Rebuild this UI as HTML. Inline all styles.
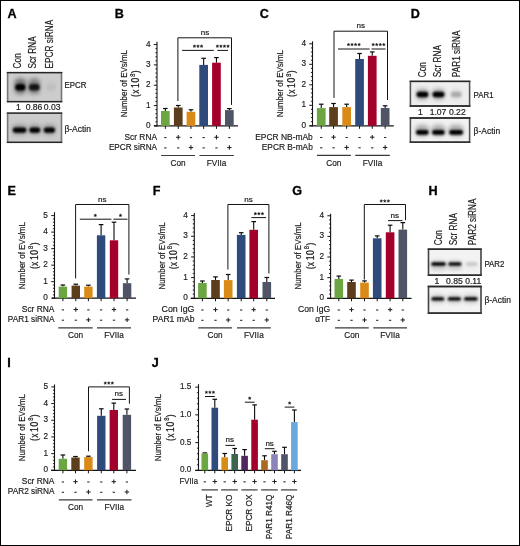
<!DOCTYPE html>
<html><head><meta charset="utf-8"><style>
html,body{margin:0;padding:0;background:#fff;}
body{width:520px;height:546px;overflow:hidden;font-family:"Liberation Sans",sans-serif;}
svg{display:block;}
</style></head><body>
<svg xmlns="http://www.w3.org/2000/svg" style="will-change:transform" width="520" height="546" viewBox="0 0 520 546" font-family='"Liberation Sans", sans-serif'>
<defs><filter id="bl1" x="-30%" y="-80%" width="160%" height="260%"><feGaussianBlur stdDeviation="0.9"/></filter><filter id="bl2" x="-50%" y="-100%" width="200%" height="300%"><feGaussianBlur stdDeviation="2"/></filter></defs>
<rect x="0" y="0" width="520" height="546" fill="#fff"/>
<text transform="translate(7.6 17.9)" font-size="12.6" text-anchor="start" font-weight="bold" fill="#000" stroke="#000" stroke-width="0.3">A</text>
<text transform="translate(114.8 18)" font-size="12.6" text-anchor="start" font-weight="bold" fill="#000" stroke="#000" stroke-width="0.3">B</text>
<text transform="translate(259.8 17.9)" font-size="12.6" text-anchor="start" font-weight="bold" fill="#000" stroke="#000" stroke-width="0.3">C</text>
<text transform="translate(410.8 17.9)" font-size="12.6" text-anchor="start" font-weight="bold" fill="#000" stroke="#000" stroke-width="0.3">D</text>
<text transform="translate(7.6 195.2)" font-size="12.6" text-anchor="start" font-weight="bold" fill="#000" stroke="#000" stroke-width="0.3">E</text>
<text transform="translate(152.8 195)" font-size="12.6" text-anchor="start" font-weight="bold" fill="#000" stroke="#000" stroke-width="0.3">F</text>
<text transform="translate(292.3 195.4)" font-size="12.6" text-anchor="start" font-weight="bold" fill="#000" stroke="#000" stroke-width="0.3">G</text>
<text transform="translate(428.6 195.1)" font-size="12.6" text-anchor="start" font-weight="bold" fill="#000" stroke="#000" stroke-width="0.3">H</text>
<text transform="translate(7.2 367.1)" font-size="12.6" text-anchor="start" font-weight="bold" fill="#000" stroke="#000" stroke-width="0.3">I</text>
<text transform="translate(151.8 367.1)" font-size="12.6" text-anchor="start" font-weight="bold" fill="#000" stroke="#000" stroke-width="0.3">J</text>
<line x1="157" y1="41.7" x2="157" y2="126.4" stroke="#141414" stroke-width="1.1"/>
<line x1="154" y1="125.9" x2="238" y2="125.9" stroke="#141414" stroke-width="1.2"/>
<line x1="153.8" y1="125.9" x2="157" y2="125.9" stroke="#141414" stroke-width="1"/>
<text transform="translate(150.6 127.93) scale(0.84 1)" font-size="9.8" text-anchor="end" font-weight="normal" fill="#1c1c1c" stroke="#1c1c1c" stroke-width="0.2">0</text>
<line x1="155.4" y1="121.83" x2="157" y2="121.83" stroke="#141414" stroke-width="0.9"/>
<line x1="155.4" y1="117.77" x2="157" y2="117.77" stroke="#141414" stroke-width="0.9"/>
<line x1="155.4" y1="113.7" x2="157" y2="113.7" stroke="#141414" stroke-width="0.9"/>
<line x1="155.4" y1="109.64" x2="157" y2="109.64" stroke="#141414" stroke-width="0.9"/>
<line x1="153.8" y1="105.57" x2="157" y2="105.57" stroke="#141414" stroke-width="1"/>
<text transform="translate(150.6 107.6) scale(0.84 1)" font-size="9.8" text-anchor="end" font-weight="normal" fill="#1c1c1c" stroke="#1c1c1c" stroke-width="0.2">1</text>
<line x1="155.4" y1="101.5" x2="157" y2="101.5" stroke="#141414" stroke-width="0.9"/>
<line x1="155.4" y1="97.44" x2="157" y2="97.44" stroke="#141414" stroke-width="0.9"/>
<line x1="155.4" y1="93.37" x2="157" y2="93.37" stroke="#141414" stroke-width="0.9"/>
<line x1="155.4" y1="89.31" x2="157" y2="89.31" stroke="#141414" stroke-width="0.9"/>
<line x1="153.8" y1="85.24" x2="157" y2="85.24" stroke="#141414" stroke-width="1"/>
<text transform="translate(150.6 87.27) scale(0.84 1)" font-size="9.8" text-anchor="end" font-weight="normal" fill="#1c1c1c" stroke="#1c1c1c" stroke-width="0.2">2</text>
<line x1="155.4" y1="81.17" x2="157" y2="81.17" stroke="#141414" stroke-width="0.9"/>
<line x1="155.4" y1="77.11" x2="157" y2="77.11" stroke="#141414" stroke-width="0.9"/>
<line x1="155.4" y1="73.04" x2="157" y2="73.04" stroke="#141414" stroke-width="0.9"/>
<line x1="155.4" y1="68.98" x2="157" y2="68.98" stroke="#141414" stroke-width="0.9"/>
<line x1="153.8" y1="64.91" x2="157" y2="64.91" stroke="#141414" stroke-width="1"/>
<text transform="translate(150.6 66.94) scale(0.84 1)" font-size="9.8" text-anchor="end" font-weight="normal" fill="#1c1c1c" stroke="#1c1c1c" stroke-width="0.2">3</text>
<line x1="155.4" y1="60.84" x2="157" y2="60.84" stroke="#141414" stroke-width="0.9"/>
<line x1="155.4" y1="56.78" x2="157" y2="56.78" stroke="#141414" stroke-width="0.9"/>
<line x1="155.4" y1="52.71" x2="157" y2="52.71" stroke="#141414" stroke-width="0.9"/>
<line x1="155.4" y1="48.65" x2="157" y2="48.65" stroke="#141414" stroke-width="0.9"/>
<line x1="153.8" y1="44.58" x2="157" y2="44.58" stroke="#141414" stroke-width="1"/>
<text transform="translate(150.6 46.61) scale(0.84 1)" font-size="9.8" text-anchor="end" font-weight="normal" fill="#1c1c1c" stroke="#1c1c1c" stroke-width="0.2">4</text>
<line x1="165.35" y1="111" x2="165.35" y2="108.5" stroke="#0a0a0a" stroke-width="1.1"/>
<line x1="163.05" y1="108.5" x2="167.65" y2="108.5" stroke="#0a0a0a" stroke-width="1.2"/>
<rect x="161" y="111" width="8.7" height="14.9" fill="#6ba642"/>
<line x1="165.35" y1="125.9" x2="165.35" y2="128.9" stroke="#141414" stroke-width="1"/>
<line x1="178.25" y1="107.5" x2="178.25" y2="105.5" stroke="#0a0a0a" stroke-width="1.1"/>
<line x1="175.95" y1="105.5" x2="180.55" y2="105.5" stroke="#0a0a0a" stroke-width="1.2"/>
<rect x="173.9" y="107.5" width="8.7" height="18.4" fill="#5c3d1c"/>
<line x1="178.25" y1="125.9" x2="178.25" y2="128.9" stroke="#141414" stroke-width="1"/>
<line x1="190.95" y1="111.8" x2="190.95" y2="109.8" stroke="#0a0a0a" stroke-width="1.1"/>
<line x1="188.65" y1="109.8" x2="193.25" y2="109.8" stroke="#0a0a0a" stroke-width="1.2"/>
<rect x="186.6" y="111.8" width="8.7" height="14.1" fill="#da8a16"/>
<line x1="190.95" y1="125.9" x2="190.95" y2="128.9" stroke="#141414" stroke-width="1"/>
<line x1="203.65" y1="64.9" x2="203.65" y2="58.3" stroke="#0a0a0a" stroke-width="1.1"/>
<line x1="201.35" y1="58.3" x2="205.95" y2="58.3" stroke="#0a0a0a" stroke-width="1.2"/>
<rect x="199.3" y="64.9" width="8.7" height="61" fill="#2e4b7c"/>
<line x1="203.65" y1="125.9" x2="203.65" y2="128.9" stroke="#141414" stroke-width="1"/>
<line x1="216.45" y1="62.7" x2="216.45" y2="57.6" stroke="#0a0a0a" stroke-width="1.1"/>
<line x1="214.15" y1="57.6" x2="218.75" y2="57.6" stroke="#0a0a0a" stroke-width="1.2"/>
<rect x="212.1" y="62.7" width="8.7" height="63.2" fill="#a3002b"/>
<line x1="216.45" y1="125.9" x2="216.45" y2="128.9" stroke="#141414" stroke-width="1"/>
<line x1="229.35" y1="110.1" x2="229.35" y2="108.6" stroke="#0a0a0a" stroke-width="1.1"/>
<line x1="227.05" y1="108.6" x2="231.65" y2="108.6" stroke="#0a0a0a" stroke-width="1.2"/>
<rect x="225" y="110.1" width="8.7" height="15.8" fill="#4f5566"/>
<line x1="229.35" y1="125.9" x2="229.35" y2="128.9" stroke="#141414" stroke-width="1"/>
<polyline points="177.9,101 177.9,37.8 231.5,37.8 231.5,104.9" fill="none" stroke="#141414" stroke-width="1"/>
<text transform="translate(204.9 34.58)" font-size="8" text-anchor="middle" font-weight="normal" fill="#1c1c1c" stroke="#1c1c1c" stroke-width="0.2">ns</text>
<polyline points="182.1,50.4 213.8,50.4" fill="none" stroke="#141414" stroke-width="1"/>
<polygon points="194.45,44.65 194.89,45.59 195.92,45.72 195.16,46.43 195.36,47.45 194.45,46.95 193.54,47.45 193.74,46.43 192.98,45.72 194.01,45.59" fill="#1a1a1a" stroke="#1a1a1a" stroke-width="0.35" stroke-linejoin="round"/>
<polygon points="198,44.65 198.44,45.59 199.47,45.72 198.71,46.43 198.91,47.45 198,46.95 197.09,47.45 197.29,46.43 196.53,45.72 197.56,45.59" fill="#1a1a1a" stroke="#1a1a1a" stroke-width="0.35" stroke-linejoin="round"/>
<polygon points="201.55,44.65 201.99,45.59 203.02,45.72 202.26,46.43 202.46,47.45 201.55,46.95 200.64,47.45 200.84,46.43 200.08,45.72 201.11,45.59" fill="#1a1a1a" stroke="#1a1a1a" stroke-width="0.35" stroke-linejoin="round"/>
<polyline points="217.3,50.4 228,50.4" fill="none" stroke="#141414" stroke-width="1"/>
<polygon points="217.38,44.65 217.82,45.59 218.85,45.72 218.09,46.43 218.29,47.45 217.38,46.95 216.46,47.45 216.66,46.43 215.9,45.72 216.93,45.59" fill="#1a1a1a" stroke="#1a1a1a" stroke-width="0.35" stroke-linejoin="round"/>
<polygon points="220.92,44.65 221.37,45.59 222.4,45.72 221.64,46.43 221.84,47.45 220.92,46.95 220.01,47.45 220.21,46.43 219.45,45.72 220.48,45.59" fill="#1a1a1a" stroke="#1a1a1a" stroke-width="0.35" stroke-linejoin="round"/>
<polygon points="224.47,44.65 224.92,45.59 225.95,45.72 225.19,46.43 225.39,47.45 224.47,46.95 223.56,47.45 223.76,46.43 223,45.72 224.03,45.59" fill="#1a1a1a" stroke="#1a1a1a" stroke-width="0.35" stroke-linejoin="round"/>
<polygon points="228.02,44.65 228.47,45.59 229.5,45.72 228.74,46.43 228.94,47.45 228.02,46.95 227.11,47.45 227.31,46.43 226.55,45.72 227.58,45.59" fill="#1a1a1a" stroke="#1a1a1a" stroke-width="0.35" stroke-linejoin="round"/>
<text transform="translate(157 139.63) scale(0.84 1)" font-size="9.8" text-anchor="end" font-weight="normal" fill="#1c1c1c" stroke="#1c1c1c" stroke-width="0.2" textLength="38.7" lengthAdjust="spacingAndGlyphs">Scr RNA</text>
<line x1="164.2" y1="137.6" x2="166.5" y2="137.6" stroke="#222" stroke-width="1.05"/>
<line x1="176.05" y1="137.25" x2="180.45" y2="137.25" stroke="#222" stroke-width="1.05"/>
<line x1="178.25" y1="135.05" x2="178.25" y2="139.45" stroke="#222" stroke-width="1.05"/>
<line x1="189.8" y1="137.6" x2="192.1" y2="137.6" stroke="#222" stroke-width="1.05"/>
<line x1="202.5" y1="137.6" x2="204.8" y2="137.6" stroke="#222" stroke-width="1.05"/>
<line x1="214.25" y1="137.25" x2="218.65" y2="137.25" stroke="#222" stroke-width="1.05"/>
<line x1="216.45" y1="135.05" x2="216.45" y2="139.45" stroke="#222" stroke-width="1.05"/>
<line x1="228.2" y1="137.6" x2="230.5" y2="137.6" stroke="#222" stroke-width="1.05"/>
<text transform="translate(157 149.93) scale(0.84 1)" font-size="9.8" text-anchor="end" font-weight="normal" fill="#1c1c1c" stroke="#1c1c1c" stroke-width="0.2" textLength="57.28" lengthAdjust="spacingAndGlyphs">EPCR siRNA</text>
<line x1="164.2" y1="147.9" x2="166.5" y2="147.9" stroke="#222" stroke-width="1.05"/>
<line x1="177.1" y1="147.9" x2="179.4" y2="147.9" stroke="#222" stroke-width="1.05"/>
<line x1="188.75" y1="147.55" x2="193.15" y2="147.55" stroke="#222" stroke-width="1.05"/>
<line x1="190.95" y1="145.35" x2="190.95" y2="149.75" stroke="#222" stroke-width="1.05"/>
<line x1="202.5" y1="147.9" x2="204.8" y2="147.9" stroke="#222" stroke-width="1.05"/>
<line x1="215.3" y1="147.9" x2="217.6" y2="147.9" stroke="#222" stroke-width="1.05"/>
<line x1="227.15" y1="147.55" x2="231.55" y2="147.55" stroke="#222" stroke-width="1.05"/>
<line x1="229.35" y1="145.35" x2="229.35" y2="149.75" stroke="#222" stroke-width="1.05"/>
<line x1="161.2" y1="155.5" x2="195" y2="155.5" stroke="#3a3a3a" stroke-width="1.2"/>
<text transform="translate(178.1 165.63) scale(0.84 1)" font-size="9.8" text-anchor="middle" font-weight="normal" fill="#1c1c1c" stroke="#1c1c1c" stroke-width="0.2">Con</text>
<line x1="199.4" y1="155.5" x2="233.8" y2="155.5" stroke="#3a3a3a" stroke-width="1.2"/>
<text transform="translate(216.6 165.63) scale(0.84 1)" font-size="9.8" text-anchor="middle" font-weight="normal" fill="#1c1c1c" stroke="#1c1c1c" stroke-width="0.2">FVIIa</text>
<text transform="translate(127.4 83.6) rotate(-90) scale(0.84 1)" font-size="9.8" text-anchor="middle" font-weight="normal" fill="#1c1c1c" stroke="#1c1c1c" stroke-width="0.2" textLength="80" lengthAdjust="spacingAndGlyphs">Number of EVs/mL</text>
<text transform="translate(139.3 83.6) rotate(-90) scale(0.86 1)" font-size="10" text-anchor="middle" font-weight="normal" fill="#1c1c1c" stroke="#1c1c1c" stroke-width="0.2"><tspan x="-13.84">(</tspan><tspan x="-9.42">x</tspan><tspan x="-2.33">1</tspan><tspan x="3.95">0</tspan><tspan x="9.77" dy="-4.6" font-size="6.8">8</tspan><tspan x="13.72" dy="4.6">)</tspan></text>
<line x1="312.5" y1="41.3" x2="312.5" y2="126.3" stroke="#141414" stroke-width="1.1"/>
<line x1="309.5" y1="125.8" x2="393.8" y2="125.8" stroke="#141414" stroke-width="1.2"/>
<line x1="309.3" y1="125.8" x2="312.5" y2="125.8" stroke="#141414" stroke-width="1"/>
<text transform="translate(306.2 127.83) scale(0.84 1)" font-size="9.8" text-anchor="end" font-weight="normal" fill="#1c1c1c" stroke="#1c1c1c" stroke-width="0.2">0</text>
<line x1="310.9" y1="121.7" x2="312.5" y2="121.7" stroke="#141414" stroke-width="0.9"/>
<line x1="310.9" y1="117.6" x2="312.5" y2="117.6" stroke="#141414" stroke-width="0.9"/>
<line x1="310.9" y1="113.5" x2="312.5" y2="113.5" stroke="#141414" stroke-width="0.9"/>
<line x1="310.9" y1="109.4" x2="312.5" y2="109.4" stroke="#141414" stroke-width="0.9"/>
<line x1="309.3" y1="105.3" x2="312.5" y2="105.3" stroke="#141414" stroke-width="1"/>
<text transform="translate(306.2 107.33) scale(0.84 1)" font-size="9.8" text-anchor="end" font-weight="normal" fill="#1c1c1c" stroke="#1c1c1c" stroke-width="0.2">1</text>
<line x1="310.9" y1="101.2" x2="312.5" y2="101.2" stroke="#141414" stroke-width="0.9"/>
<line x1="310.9" y1="97.1" x2="312.5" y2="97.1" stroke="#141414" stroke-width="0.9"/>
<line x1="310.9" y1="93" x2="312.5" y2="93" stroke="#141414" stroke-width="0.9"/>
<line x1="310.9" y1="88.9" x2="312.5" y2="88.9" stroke="#141414" stroke-width="0.9"/>
<line x1="309.3" y1="84.8" x2="312.5" y2="84.8" stroke="#141414" stroke-width="1"/>
<text transform="translate(306.2 86.83) scale(0.84 1)" font-size="9.8" text-anchor="end" font-weight="normal" fill="#1c1c1c" stroke="#1c1c1c" stroke-width="0.2">2</text>
<line x1="310.9" y1="80.7" x2="312.5" y2="80.7" stroke="#141414" stroke-width="0.9"/>
<line x1="310.9" y1="76.6" x2="312.5" y2="76.6" stroke="#141414" stroke-width="0.9"/>
<line x1="310.9" y1="72.5" x2="312.5" y2="72.5" stroke="#141414" stroke-width="0.9"/>
<line x1="310.9" y1="68.4" x2="312.5" y2="68.4" stroke="#141414" stroke-width="0.9"/>
<line x1="309.3" y1="64.3" x2="312.5" y2="64.3" stroke="#141414" stroke-width="1"/>
<text transform="translate(306.2 66.33) scale(0.84 1)" font-size="9.8" text-anchor="end" font-weight="normal" fill="#1c1c1c" stroke="#1c1c1c" stroke-width="0.2">3</text>
<line x1="310.9" y1="60.2" x2="312.5" y2="60.2" stroke="#141414" stroke-width="0.9"/>
<line x1="310.9" y1="56.1" x2="312.5" y2="56.1" stroke="#141414" stroke-width="0.9"/>
<line x1="310.9" y1="52" x2="312.5" y2="52" stroke="#141414" stroke-width="0.9"/>
<line x1="310.9" y1="47.9" x2="312.5" y2="47.9" stroke="#141414" stroke-width="0.9"/>
<line x1="309.3" y1="43.8" x2="312.5" y2="43.8" stroke="#141414" stroke-width="1"/>
<text transform="translate(306.2 45.83) scale(0.84 1)" font-size="9.8" text-anchor="end" font-weight="normal" fill="#1c1c1c" stroke="#1c1c1c" stroke-width="0.2">4</text>
<line x1="321.25" y1="108.1" x2="321.25" y2="104.2" stroke="#0a0a0a" stroke-width="1.1"/>
<line x1="318.95" y1="104.2" x2="323.55" y2="104.2" stroke="#0a0a0a" stroke-width="1.2"/>
<rect x="316.9" y="108.1" width="8.7" height="17.7" fill="#6ba642"/>
<line x1="321.25" y1="125.8" x2="321.25" y2="128.8" stroke="#141414" stroke-width="1"/>
<line x1="333.55" y1="107.1" x2="333.55" y2="103.5" stroke="#0a0a0a" stroke-width="1.1"/>
<line x1="331.25" y1="103.5" x2="335.85" y2="103.5" stroke="#0a0a0a" stroke-width="1.2"/>
<rect x="329.2" y="107.1" width="8.7" height="18.7" fill="#5c3d1c"/>
<line x1="333.55" y1="125.8" x2="333.55" y2="128.8" stroke="#141414" stroke-width="1"/>
<line x1="346.65" y1="107.1" x2="346.65" y2="104.2" stroke="#0a0a0a" stroke-width="1.1"/>
<line x1="344.35" y1="104.2" x2="348.95" y2="104.2" stroke="#0a0a0a" stroke-width="1.2"/>
<rect x="342.3" y="107.1" width="8.7" height="18.7" fill="#da8a16"/>
<line x1="346.65" y1="125.8" x2="346.65" y2="128.8" stroke="#141414" stroke-width="1"/>
<line x1="359.55" y1="59" x2="359.55" y2="53.5" stroke="#0a0a0a" stroke-width="1.1"/>
<line x1="357.25" y1="53.5" x2="361.85" y2="53.5" stroke="#0a0a0a" stroke-width="1.2"/>
<rect x="355.2" y="59" width="8.7" height="66.8" fill="#2e4b7c"/>
<line x1="359.55" y1="125.8" x2="359.55" y2="128.8" stroke="#141414" stroke-width="1"/>
<line x1="372.25" y1="55.8" x2="372.25" y2="51.9" stroke="#0a0a0a" stroke-width="1.1"/>
<line x1="369.95" y1="51.9" x2="374.55" y2="51.9" stroke="#0a0a0a" stroke-width="1.2"/>
<rect x="367.9" y="55.8" width="8.7" height="70" fill="#a3002b"/>
<line x1="372.25" y1="125.8" x2="372.25" y2="128.8" stroke="#141414" stroke-width="1"/>
<line x1="385.15" y1="108" x2="385.15" y2="105.8" stroke="#0a0a0a" stroke-width="1.1"/>
<line x1="382.85" y1="105.8" x2="387.45" y2="105.8" stroke="#0a0a0a" stroke-width="1.2"/>
<rect x="380.8" y="108" width="8.7" height="17.8" fill="#4f5566"/>
<line x1="385.15" y1="125.8" x2="385.15" y2="128.8" stroke="#141414" stroke-width="1"/>
<polyline points="334,98 334,31.2 387.5,31.2 387.5,100" fill="none" stroke="#141414" stroke-width="1"/>
<text transform="translate(360.7 28.28)" font-size="8" text-anchor="middle" font-weight="normal" fill="#1c1c1c" stroke="#1c1c1c" stroke-width="0.2">ns</text>
<polyline points="338,49 369.6,49" fill="none" stroke="#141414" stroke-width="1"/>
<polygon points="348.48,43.05 348.92,43.99 349.95,44.12 349.19,44.83 349.39,45.85 348.48,45.35 347.56,45.85 347.76,44.83 347,44.12 348.03,43.99" fill="#1a1a1a" stroke="#1a1a1a" stroke-width="0.35" stroke-linejoin="round"/>
<polygon points="352.03,43.05 352.47,43.99 353.5,44.12 352.74,44.83 352.94,45.85 352.03,45.35 351.11,45.85 351.31,44.83 350.55,44.12 351.58,43.99" fill="#1a1a1a" stroke="#1a1a1a" stroke-width="0.35" stroke-linejoin="round"/>
<polygon points="355.57,43.05 356.02,43.99 357.05,44.12 356.29,44.83 356.49,45.85 355.57,45.35 354.66,45.85 354.86,44.83 354.1,44.12 355.13,43.99" fill="#1a1a1a" stroke="#1a1a1a" stroke-width="0.35" stroke-linejoin="round"/>
<polygon points="359.12,43.05 359.57,43.99 360.6,44.12 359.84,44.83 360.04,45.85 359.12,45.35 358.21,45.85 358.41,44.83 357.65,44.12 358.68,43.99" fill="#1a1a1a" stroke="#1a1a1a" stroke-width="0.35" stroke-linejoin="round"/>
<polyline points="371.5,49 385.6,49" fill="none" stroke="#141414" stroke-width="1"/>
<polygon points="373.18,43.05 373.62,43.99 374.65,44.12 373.89,44.83 374.09,45.85 373.18,45.35 372.26,45.85 372.46,44.83 371.7,44.12 372.73,43.99" fill="#1a1a1a" stroke="#1a1a1a" stroke-width="0.35" stroke-linejoin="round"/>
<polygon points="376.73,43.05 377.17,43.99 378.2,44.12 377.44,44.83 377.64,45.85 376.73,45.35 375.81,45.85 376.01,44.83 375.25,44.12 376.28,43.99" fill="#1a1a1a" stroke="#1a1a1a" stroke-width="0.35" stroke-linejoin="round"/>
<polygon points="380.27,43.05 380.72,43.99 381.75,44.12 380.99,44.83 381.19,45.85 380.27,45.35 379.36,45.85 379.56,44.83 378.8,44.12 379.83,43.99" fill="#1a1a1a" stroke="#1a1a1a" stroke-width="0.35" stroke-linejoin="round"/>
<polygon points="383.82,43.05 384.27,43.99 385.3,44.12 384.54,44.83 384.74,45.85 383.82,45.35 382.91,45.85 383.11,44.83 382.35,44.12 383.38,43.99" fill="#1a1a1a" stroke="#1a1a1a" stroke-width="0.35" stroke-linejoin="round"/>
<text transform="translate(312.8 139.53) scale(0.84 1)" font-size="9.8" text-anchor="end" font-weight="normal" fill="#1c1c1c" stroke="#1c1c1c" stroke-width="0.2" textLength="68.64" lengthAdjust="spacingAndGlyphs">EPCR NB-mAb</text>
<line x1="320.1" y1="137.5" x2="322.4" y2="137.5" stroke="#222" stroke-width="1.05"/>
<line x1="331.35" y1="137.15" x2="335.75" y2="137.15" stroke="#222" stroke-width="1.05"/>
<line x1="333.55" y1="134.95" x2="333.55" y2="139.35" stroke="#222" stroke-width="1.05"/>
<line x1="345.5" y1="137.5" x2="347.8" y2="137.5" stroke="#222" stroke-width="1.05"/>
<line x1="358.4" y1="137.5" x2="360.7" y2="137.5" stroke="#222" stroke-width="1.05"/>
<line x1="370.05" y1="137.15" x2="374.45" y2="137.15" stroke="#222" stroke-width="1.05"/>
<line x1="372.25" y1="134.95" x2="372.25" y2="139.35" stroke="#222" stroke-width="1.05"/>
<line x1="384" y1="137.5" x2="386.3" y2="137.5" stroke="#222" stroke-width="1.05"/>
<text transform="translate(312.8 149.83) scale(0.84 1)" font-size="9.8" text-anchor="end" font-weight="normal" fill="#1c1c1c" stroke="#1c1c1c" stroke-width="0.2" textLength="60.71" lengthAdjust="spacingAndGlyphs">EPCR B-mAb</text>
<line x1="320.1" y1="147.8" x2="322.4" y2="147.8" stroke="#222" stroke-width="1.05"/>
<line x1="332.4" y1="147.8" x2="334.7" y2="147.8" stroke="#222" stroke-width="1.05"/>
<line x1="344.45" y1="147.45" x2="348.85" y2="147.45" stroke="#222" stroke-width="1.05"/>
<line x1="346.65" y1="145.25" x2="346.65" y2="149.65" stroke="#222" stroke-width="1.05"/>
<line x1="358.4" y1="147.8" x2="360.7" y2="147.8" stroke="#222" stroke-width="1.05"/>
<line x1="371.1" y1="147.8" x2="373.4" y2="147.8" stroke="#222" stroke-width="1.05"/>
<line x1="382.95" y1="147.45" x2="387.35" y2="147.45" stroke="#222" stroke-width="1.05"/>
<line x1="385.15" y1="145.25" x2="385.15" y2="149.65" stroke="#222" stroke-width="1.05"/>
<line x1="316.9" y1="155.4" x2="350.9" y2="155.4" stroke="#3a3a3a" stroke-width="1.2"/>
<text transform="translate(333.9 165.53) scale(0.84 1)" font-size="9.8" text-anchor="middle" font-weight="normal" fill="#1c1c1c" stroke="#1c1c1c" stroke-width="0.2">Con</text>
<line x1="355.2" y1="155.4" x2="389.8" y2="155.4" stroke="#3a3a3a" stroke-width="1.2"/>
<text transform="translate(372.5 165.53) scale(0.84 1)" font-size="9.8" text-anchor="middle" font-weight="normal" fill="#1c1c1c" stroke="#1c1c1c" stroke-width="0.2">FVIIa</text>
<text transform="translate(282.6 83.6) rotate(-90) scale(0.84 1)" font-size="9.8" text-anchor="middle" font-weight="normal" fill="#1c1c1c" stroke="#1c1c1c" stroke-width="0.2" textLength="80" lengthAdjust="spacingAndGlyphs">Number of EVs/mL</text>
<text transform="translate(295.1 83.6) rotate(-90) scale(0.86 1)" font-size="10" text-anchor="middle" font-weight="normal" fill="#1c1c1c" stroke="#1c1c1c" stroke-width="0.2"><tspan x="-13.84">(</tspan><tspan x="-9.42">x</tspan><tspan x="-2.33">1</tspan><tspan x="3.95">0</tspan><tspan x="9.77" dy="-4.6" font-size="6.8">8</tspan><tspan x="13.72" dy="4.6">)</tspan></text>
<line x1="54.5" y1="212.2" x2="54.5" y2="298.7" stroke="#141414" stroke-width="1.1"/>
<line x1="52" y1="298.2" x2="136" y2="298.2" stroke="#141414" stroke-width="1.2"/>
<line x1="51.3" y1="298.2" x2="54.5" y2="298.2" stroke="#141414" stroke-width="1"/>
<text transform="translate(47.8 300.23) scale(0.84 1)" font-size="9.8" text-anchor="end" font-weight="normal" fill="#1c1c1c" stroke="#1c1c1c" stroke-width="0.2">0</text>
<line x1="52.9" y1="294.9" x2="54.5" y2="294.9" stroke="#141414" stroke-width="0.9"/>
<line x1="52.9" y1="291.59" x2="54.5" y2="291.59" stroke="#141414" stroke-width="0.9"/>
<line x1="52.9" y1="288.29" x2="54.5" y2="288.29" stroke="#141414" stroke-width="0.9"/>
<line x1="52.9" y1="284.98" x2="54.5" y2="284.98" stroke="#141414" stroke-width="0.9"/>
<line x1="51.3" y1="281.68" x2="54.5" y2="281.68" stroke="#141414" stroke-width="1"/>
<text transform="translate(47.8 283.71) scale(0.84 1)" font-size="9.8" text-anchor="end" font-weight="normal" fill="#1c1c1c" stroke="#1c1c1c" stroke-width="0.2">1</text>
<line x1="52.9" y1="278.38" x2="54.5" y2="278.38" stroke="#141414" stroke-width="0.9"/>
<line x1="52.9" y1="275.07" x2="54.5" y2="275.07" stroke="#141414" stroke-width="0.9"/>
<line x1="52.9" y1="271.77" x2="54.5" y2="271.77" stroke="#141414" stroke-width="0.9"/>
<line x1="52.9" y1="268.46" x2="54.5" y2="268.46" stroke="#141414" stroke-width="0.9"/>
<line x1="51.3" y1="265.16" x2="54.5" y2="265.16" stroke="#141414" stroke-width="1"/>
<text transform="translate(47.8 267.19) scale(0.84 1)" font-size="9.8" text-anchor="end" font-weight="normal" fill="#1c1c1c" stroke="#1c1c1c" stroke-width="0.2">2</text>
<line x1="52.9" y1="261.86" x2="54.5" y2="261.86" stroke="#141414" stroke-width="0.9"/>
<line x1="52.9" y1="258.55" x2="54.5" y2="258.55" stroke="#141414" stroke-width="0.9"/>
<line x1="52.9" y1="255.25" x2="54.5" y2="255.25" stroke="#141414" stroke-width="0.9"/>
<line x1="52.9" y1="251.94" x2="54.5" y2="251.94" stroke="#141414" stroke-width="0.9"/>
<line x1="51.3" y1="248.64" x2="54.5" y2="248.64" stroke="#141414" stroke-width="1"/>
<text transform="translate(47.8 250.67) scale(0.84 1)" font-size="9.8" text-anchor="end" font-weight="normal" fill="#1c1c1c" stroke="#1c1c1c" stroke-width="0.2">3</text>
<line x1="52.9" y1="245.34" x2="54.5" y2="245.34" stroke="#141414" stroke-width="0.9"/>
<line x1="52.9" y1="242.03" x2="54.5" y2="242.03" stroke="#141414" stroke-width="0.9"/>
<line x1="52.9" y1="238.73" x2="54.5" y2="238.73" stroke="#141414" stroke-width="0.9"/>
<line x1="52.9" y1="235.42" x2="54.5" y2="235.42" stroke="#141414" stroke-width="0.9"/>
<line x1="51.3" y1="232.12" x2="54.5" y2="232.12" stroke="#141414" stroke-width="1"/>
<text transform="translate(47.8 234.15) scale(0.84 1)" font-size="9.8" text-anchor="end" font-weight="normal" fill="#1c1c1c" stroke="#1c1c1c" stroke-width="0.2">4</text>
<line x1="52.9" y1="228.82" x2="54.5" y2="228.82" stroke="#141414" stroke-width="0.9"/>
<line x1="52.9" y1="225.51" x2="54.5" y2="225.51" stroke="#141414" stroke-width="0.9"/>
<line x1="52.9" y1="222.21" x2="54.5" y2="222.21" stroke="#141414" stroke-width="0.9"/>
<line x1="52.9" y1="218.9" x2="54.5" y2="218.9" stroke="#141414" stroke-width="0.9"/>
<line x1="51.3" y1="215.6" x2="54.5" y2="215.6" stroke="#141414" stroke-width="1"/>
<text transform="translate(47.8 217.63) scale(0.84 1)" font-size="9.8" text-anchor="end" font-weight="normal" fill="#1c1c1c" stroke="#1c1c1c" stroke-width="0.2">5</text>
<line x1="62.9" y1="286.6" x2="62.9" y2="285" stroke="#0a0a0a" stroke-width="1.1"/>
<line x1="60.6" y1="285" x2="65.2" y2="285" stroke="#0a0a0a" stroke-width="1.2"/>
<rect x="58.7" y="286.6" width="8.4" height="11.6" fill="#6ba642"/>
<line x1="62.9" y1="298.2" x2="62.9" y2="301.2" stroke="#141414" stroke-width="1"/>
<line x1="75.8" y1="285.6" x2="75.8" y2="284.2" stroke="#0a0a0a" stroke-width="1.1"/>
<line x1="73.5" y1="284.2" x2="78.1" y2="284.2" stroke="#0a0a0a" stroke-width="1.2"/>
<rect x="71.6" y="285.6" width="8.4" height="12.6" fill="#5c3d1c"/>
<line x1="75.8" y1="298.2" x2="75.8" y2="301.2" stroke="#141414" stroke-width="1"/>
<line x1="88.4" y1="286.6" x2="88.4" y2="285.2" stroke="#0a0a0a" stroke-width="1.1"/>
<line x1="86.1" y1="285.2" x2="90.7" y2="285.2" stroke="#0a0a0a" stroke-width="1.2"/>
<rect x="84.2" y="286.6" width="8.4" height="11.6" fill="#da8a16"/>
<line x1="88.4" y1="298.2" x2="88.4" y2="301.2" stroke="#141414" stroke-width="1"/>
<line x1="101.1" y1="235.3" x2="101.1" y2="224.6" stroke="#0a0a0a" stroke-width="1.1"/>
<line x1="98.8" y1="224.6" x2="103.4" y2="224.6" stroke="#0a0a0a" stroke-width="1.2"/>
<rect x="96.9" y="235.3" width="8.4" height="62.9" fill="#2e4b7c"/>
<line x1="101.1" y1="298.2" x2="101.1" y2="301.2" stroke="#141414" stroke-width="1"/>
<line x1="114" y1="240.3" x2="114" y2="222.2" stroke="#0a0a0a" stroke-width="1.1"/>
<line x1="111.7" y1="222.2" x2="116.3" y2="222.2" stroke="#0a0a0a" stroke-width="1.2"/>
<rect x="109.8" y="240.3" width="8.4" height="57.9" fill="#a3002b"/>
<line x1="114" y1="298.2" x2="114" y2="301.2" stroke="#141414" stroke-width="1"/>
<line x1="127.1" y1="283.2" x2="127.1" y2="278.9" stroke="#0a0a0a" stroke-width="1.1"/>
<line x1="124.8" y1="278.9" x2="129.4" y2="278.9" stroke="#0a0a0a" stroke-width="1.2"/>
<rect x="122.9" y="283.2" width="8.4" height="15" fill="#4f5566"/>
<line x1="127.1" y1="298.2" x2="127.1" y2="301.2" stroke="#141414" stroke-width="1"/>
<polyline points="75.6,278.5 75.6,204.5 128.9,204.5 128.9,274.5" fill="none" stroke="#141414" stroke-width="1"/>
<text transform="translate(102.3 201.78)" font-size="8" text-anchor="middle" font-weight="normal" fill="#1c1c1c" stroke="#1c1c1c" stroke-width="0.2">ns</text>
<polyline points="79.8,219.2 111.4,219.2" fill="none" stroke="#141414" stroke-width="1"/>
<polygon points="95.3,213.85 95.74,214.79 96.77,214.92 96.01,215.63 96.21,216.65 95.3,216.15 94.39,216.65 94.59,215.63 93.83,214.92 94.86,214.79" fill="#1a1a1a" stroke="#1a1a1a" stroke-width="0.35" stroke-linejoin="round"/>
<polyline points="113.4,219.2 127.5,219.2" fill="none" stroke="#141414" stroke-width="1"/>
<polygon points="120.5,213.85 120.94,214.79 121.97,214.92 121.21,215.63 121.41,216.65 120.5,216.15 119.59,216.65 119.79,215.63 119.03,214.92 120.06,214.79" fill="#1a1a1a" stroke="#1a1a1a" stroke-width="0.35" stroke-linejoin="round"/>
<text transform="translate(54.4 311.93) scale(0.84 1)" font-size="9.8" text-anchor="end" font-weight="normal" fill="#1c1c1c" stroke="#1c1c1c" stroke-width="0.2" textLength="38.82" lengthAdjust="spacingAndGlyphs">Scr RNA</text>
<line x1="61.75" y1="309.9" x2="64.05" y2="309.9" stroke="#222" stroke-width="1.05"/>
<line x1="73.6" y1="309.55" x2="78" y2="309.55" stroke="#222" stroke-width="1.05"/>
<line x1="75.8" y1="307.35" x2="75.8" y2="311.75" stroke="#222" stroke-width="1.05"/>
<line x1="87.25" y1="309.9" x2="89.55" y2="309.9" stroke="#222" stroke-width="1.05"/>
<line x1="99.95" y1="309.9" x2="102.25" y2="309.9" stroke="#222" stroke-width="1.05"/>
<line x1="111.8" y1="309.55" x2="116.2" y2="309.55" stroke="#222" stroke-width="1.05"/>
<line x1="114" y1="307.35" x2="114" y2="311.75" stroke="#222" stroke-width="1.05"/>
<line x1="125.95" y1="309.9" x2="128.25" y2="309.9" stroke="#222" stroke-width="1.05"/>
<text transform="translate(54.4 322.23) scale(0.84 1)" font-size="9.8" text-anchor="end" font-weight="normal" fill="#1c1c1c" stroke="#1c1c1c" stroke-width="0.2" textLength="55.5" lengthAdjust="spacingAndGlyphs">PAR1 siRNA</text>
<line x1="61.75" y1="320.2" x2="64.05" y2="320.2" stroke="#222" stroke-width="1.05"/>
<line x1="74.65" y1="320.2" x2="76.95" y2="320.2" stroke="#222" stroke-width="1.05"/>
<line x1="86.2" y1="319.85" x2="90.6" y2="319.85" stroke="#222" stroke-width="1.05"/>
<line x1="88.4" y1="317.65" x2="88.4" y2="322.05" stroke="#222" stroke-width="1.05"/>
<line x1="99.95" y1="320.2" x2="102.25" y2="320.2" stroke="#222" stroke-width="1.05"/>
<line x1="112.85" y1="320.2" x2="115.15" y2="320.2" stroke="#222" stroke-width="1.05"/>
<line x1="124.9" y1="319.85" x2="129.3" y2="319.85" stroke="#222" stroke-width="1.05"/>
<line x1="127.1" y1="317.65" x2="127.1" y2="322.05" stroke="#222" stroke-width="1.05"/>
<line x1="58.3" y1="327.8" x2="92.7" y2="327.8" stroke="#3a3a3a" stroke-width="1.2"/>
<text transform="translate(75.5 337.93) scale(0.84 1)" font-size="9.8" text-anchor="middle" font-weight="normal" fill="#1c1c1c" stroke="#1c1c1c" stroke-width="0.2">Con</text>
<line x1="97" y1="327.8" x2="131" y2="327.8" stroke="#3a3a3a" stroke-width="1.2"/>
<text transform="translate(114 337.93) scale(0.84 1)" font-size="9.8" text-anchor="middle" font-weight="normal" fill="#1c1c1c" stroke="#1c1c1c" stroke-width="0.2">FVIIa</text>
<text transform="translate(25.2 255.7) rotate(-90) scale(0.84 1)" font-size="9.8" text-anchor="middle" font-weight="normal" fill="#1c1c1c" stroke="#1c1c1c" stroke-width="0.2" textLength="80" lengthAdjust="spacingAndGlyphs">Number of EVs/mL</text>
<text transform="translate(37.5 255.7) rotate(-90) scale(0.86 1)" font-size="10" text-anchor="middle" font-weight="normal" fill="#1c1c1c" stroke="#1c1c1c" stroke-width="0.2"><tspan x="-13.84">(</tspan><tspan x="-9.42">x</tspan><tspan x="-2.33">1</tspan><tspan x="3.95">0</tspan><tspan x="9.77" dy="-4.6" font-size="6.8">8</tspan><tspan x="13.72" dy="4.6">)</tspan></text>
<line x1="194.3" y1="213.1" x2="194.3" y2="298.8" stroke="#141414" stroke-width="1.1"/>
<line x1="190.7" y1="298.3" x2="275" y2="298.3" stroke="#141414" stroke-width="1.2"/>
<line x1="191.1" y1="298.3" x2="194.3" y2="298.3" stroke="#141414" stroke-width="1"/>
<text transform="translate(187.8 300.33) scale(0.84 1)" font-size="9.8" text-anchor="end" font-weight="normal" fill="#1c1c1c" stroke="#1c1c1c" stroke-width="0.2">0</text>
<line x1="192.7" y1="294.16" x2="194.3" y2="294.16" stroke="#141414" stroke-width="0.9"/>
<line x1="192.7" y1="290.03" x2="194.3" y2="290.03" stroke="#141414" stroke-width="0.9"/>
<line x1="192.7" y1="285.89" x2="194.3" y2="285.89" stroke="#141414" stroke-width="0.9"/>
<line x1="192.7" y1="281.76" x2="194.3" y2="281.76" stroke="#141414" stroke-width="0.9"/>
<line x1="191.1" y1="277.62" x2="194.3" y2="277.62" stroke="#141414" stroke-width="1"/>
<text transform="translate(187.8 279.65) scale(0.84 1)" font-size="9.8" text-anchor="end" font-weight="normal" fill="#1c1c1c" stroke="#1c1c1c" stroke-width="0.2">1</text>
<line x1="192.7" y1="273.48" x2="194.3" y2="273.48" stroke="#141414" stroke-width="0.9"/>
<line x1="192.7" y1="269.35" x2="194.3" y2="269.35" stroke="#141414" stroke-width="0.9"/>
<line x1="192.7" y1="265.21" x2="194.3" y2="265.21" stroke="#141414" stroke-width="0.9"/>
<line x1="192.7" y1="261.08" x2="194.3" y2="261.08" stroke="#141414" stroke-width="0.9"/>
<line x1="191.1" y1="256.94" x2="194.3" y2="256.94" stroke="#141414" stroke-width="1"/>
<text transform="translate(187.8 258.97) scale(0.84 1)" font-size="9.8" text-anchor="end" font-weight="normal" fill="#1c1c1c" stroke="#1c1c1c" stroke-width="0.2">2</text>
<line x1="192.7" y1="252.8" x2="194.3" y2="252.8" stroke="#141414" stroke-width="0.9"/>
<line x1="192.7" y1="248.67" x2="194.3" y2="248.67" stroke="#141414" stroke-width="0.9"/>
<line x1="192.7" y1="244.53" x2="194.3" y2="244.53" stroke="#141414" stroke-width="0.9"/>
<line x1="192.7" y1="240.4" x2="194.3" y2="240.4" stroke="#141414" stroke-width="0.9"/>
<line x1="191.1" y1="236.26" x2="194.3" y2="236.26" stroke="#141414" stroke-width="1"/>
<text transform="translate(187.8 238.29) scale(0.84 1)" font-size="9.8" text-anchor="end" font-weight="normal" fill="#1c1c1c" stroke="#1c1c1c" stroke-width="0.2">3</text>
<line x1="192.7" y1="232.12" x2="194.3" y2="232.12" stroke="#141414" stroke-width="0.9"/>
<line x1="192.7" y1="227.99" x2="194.3" y2="227.99" stroke="#141414" stroke-width="0.9"/>
<line x1="192.7" y1="223.85" x2="194.3" y2="223.85" stroke="#141414" stroke-width="0.9"/>
<line x1="192.7" y1="219.72" x2="194.3" y2="219.72" stroke="#141414" stroke-width="0.9"/>
<line x1="191.1" y1="215.58" x2="194.3" y2="215.58" stroke="#141414" stroke-width="1"/>
<text transform="translate(187.8 217.61) scale(0.84 1)" font-size="9.8" text-anchor="end" font-weight="normal" fill="#1c1c1c" stroke="#1c1c1c" stroke-width="0.2">4</text>
<line x1="202.4" y1="283" x2="202.4" y2="281" stroke="#0a0a0a" stroke-width="1.1"/>
<line x1="200.1" y1="281" x2="204.7" y2="281" stroke="#0a0a0a" stroke-width="1.2"/>
<rect x="198.1" y="283" width="8.6" height="15.3" fill="#6ba642"/>
<line x1="202.4" y1="298.3" x2="202.4" y2="301.3" stroke="#141414" stroke-width="1"/>
<line x1="215.5" y1="280" x2="215.5" y2="276.9" stroke="#0a0a0a" stroke-width="1.1"/>
<line x1="213.2" y1="276.9" x2="217.8" y2="276.9" stroke="#0a0a0a" stroke-width="1.2"/>
<rect x="211.2" y="280" width="8.6" height="18.3" fill="#5c3d1c"/>
<line x1="215.5" y1="298.3" x2="215.5" y2="301.3" stroke="#141414" stroke-width="1"/>
<line x1="228.2" y1="280.1" x2="228.2" y2="274.5" stroke="#0a0a0a" stroke-width="1.1"/>
<line x1="225.9" y1="274.5" x2="230.5" y2="274.5" stroke="#0a0a0a" stroke-width="1.2"/>
<rect x="223.9" y="280.1" width="8.6" height="18.2" fill="#da8a16"/>
<line x1="228.2" y1="298.3" x2="228.2" y2="301.3" stroke="#141414" stroke-width="1"/>
<line x1="241.2" y1="234.9" x2="241.2" y2="232.7" stroke="#0a0a0a" stroke-width="1.1"/>
<line x1="238.9" y1="232.7" x2="243.5" y2="232.7" stroke="#0a0a0a" stroke-width="1.2"/>
<rect x="236.9" y="234.9" width="8.6" height="63.4" fill="#2e4b7c"/>
<line x1="241.2" y1="298.3" x2="241.2" y2="301.3" stroke="#141414" stroke-width="1"/>
<line x1="253.7" y1="229.8" x2="253.7" y2="221.6" stroke="#0a0a0a" stroke-width="1.1"/>
<line x1="251.4" y1="221.6" x2="256" y2="221.6" stroke="#0a0a0a" stroke-width="1.2"/>
<rect x="249.4" y="229.8" width="8.6" height="68.5" fill="#a3002b"/>
<line x1="253.7" y1="298.3" x2="253.7" y2="301.3" stroke="#141414" stroke-width="1"/>
<line x1="266.8" y1="282" x2="266.8" y2="277.5" stroke="#0a0a0a" stroke-width="1.1"/>
<line x1="264.5" y1="277.5" x2="269.1" y2="277.5" stroke="#0a0a0a" stroke-width="1.2"/>
<rect x="262.5" y="282" width="8.6" height="16.3" fill="#4f5566"/>
<line x1="266.8" y1="298.3" x2="266.8" y2="301.3" stroke="#141414" stroke-width="1"/>
<polyline points="227.9,269.5 227.9,204.5 268.9,204.5 268.9,273.5" fill="none" stroke="#141414" stroke-width="1"/>
<text transform="translate(248.4 201.78)" font-size="8" text-anchor="middle" font-weight="normal" fill="#1c1c1c" stroke="#1c1c1c" stroke-width="0.2">ns</text>
<polyline points="251.4,217.6 266.1,217.6" fill="none" stroke="#141414" stroke-width="1"/>
<polygon points="255.35,212.15 255.79,213.09 256.82,213.22 256.06,213.93 256.26,214.95 255.35,214.45 254.44,214.95 254.64,213.93 253.88,213.22 254.91,213.09" fill="#1a1a1a" stroke="#1a1a1a" stroke-width="0.35" stroke-linejoin="round"/>
<polygon points="258.9,212.15 259.34,213.09 260.37,213.22 259.61,213.93 259.81,214.95 258.9,214.45 257.99,214.95 258.19,213.93 257.43,213.22 258.46,213.09" fill="#1a1a1a" stroke="#1a1a1a" stroke-width="0.35" stroke-linejoin="round"/>
<polygon points="262.45,212.15 262.89,213.09 263.92,213.22 263.16,213.93 263.36,214.95 262.45,214.45 261.54,214.95 261.74,213.93 260.98,213.22 262.01,213.09" fill="#1a1a1a" stroke="#1a1a1a" stroke-width="0.35" stroke-linejoin="round"/>
<text transform="translate(194.4 312.03) scale(0.84 1)" font-size="9.8" text-anchor="end" font-weight="normal" fill="#1c1c1c" stroke="#1c1c1c" stroke-width="0.2" textLength="39.05" lengthAdjust="spacingAndGlyphs">Con IgG</text>
<line x1="201.25" y1="310" x2="203.55" y2="310" stroke="#222" stroke-width="1.05"/>
<line x1="213.3" y1="309.65" x2="217.7" y2="309.65" stroke="#222" stroke-width="1.05"/>
<line x1="215.5" y1="307.45" x2="215.5" y2="311.85" stroke="#222" stroke-width="1.05"/>
<line x1="227.05" y1="310" x2="229.35" y2="310" stroke="#222" stroke-width="1.05"/>
<line x1="240.05" y1="310" x2="242.35" y2="310" stroke="#222" stroke-width="1.05"/>
<line x1="251.5" y1="309.65" x2="255.9" y2="309.65" stroke="#222" stroke-width="1.05"/>
<line x1="253.7" y1="307.45" x2="253.7" y2="311.85" stroke="#222" stroke-width="1.05"/>
<line x1="265.65" y1="310" x2="267.95" y2="310" stroke="#222" stroke-width="1.05"/>
<text transform="translate(194.4 322.33) scale(0.84 1)" font-size="9.8" text-anchor="end" font-weight="normal" fill="#1c1c1c" stroke="#1c1c1c" stroke-width="0.2" textLength="49.82" lengthAdjust="spacingAndGlyphs">PAR1 mAb</text>
<line x1="201.25" y1="320.3" x2="203.55" y2="320.3" stroke="#222" stroke-width="1.05"/>
<line x1="214.35" y1="320.3" x2="216.65" y2="320.3" stroke="#222" stroke-width="1.05"/>
<line x1="226" y1="319.95" x2="230.4" y2="319.95" stroke="#222" stroke-width="1.05"/>
<line x1="228.2" y1="317.75" x2="228.2" y2="322.15" stroke="#222" stroke-width="1.05"/>
<line x1="240.05" y1="320.3" x2="242.35" y2="320.3" stroke="#222" stroke-width="1.05"/>
<line x1="252.55" y1="320.3" x2="254.85" y2="320.3" stroke="#222" stroke-width="1.05"/>
<line x1="264.6" y1="319.95" x2="269" y2="319.95" stroke="#222" stroke-width="1.05"/>
<line x1="266.8" y1="317.75" x2="266.8" y2="322.15" stroke="#222" stroke-width="1.05"/>
<line x1="198.25" y1="327.9" x2="232" y2="327.9" stroke="#3a3a3a" stroke-width="1.2"/>
<text transform="translate(215.12 338.03) scale(0.84 1)" font-size="9.8" text-anchor="middle" font-weight="normal" fill="#1c1c1c" stroke="#1c1c1c" stroke-width="0.2">Con</text>
<line x1="237" y1="327.9" x2="270.75" y2="327.9" stroke="#3a3a3a" stroke-width="1.2"/>
<text transform="translate(253.88 338.03) scale(0.84 1)" font-size="9.8" text-anchor="middle" font-weight="normal" fill="#1c1c1c" stroke="#1c1c1c" stroke-width="0.2">FVIIa</text>
<text transform="translate(164.5 255.9) rotate(-90) scale(0.84 1)" font-size="9.8" text-anchor="middle" font-weight="normal" fill="#1c1c1c" stroke="#1c1c1c" stroke-width="0.2" textLength="80" lengthAdjust="spacingAndGlyphs">Number of EVs/mL</text>
<text transform="translate(176.9 255.9) rotate(-90) scale(0.86 1)" font-size="10" text-anchor="middle" font-weight="normal" fill="#1c1c1c" stroke="#1c1c1c" stroke-width="0.2"><tspan x="-13.84">(</tspan><tspan x="-9.42">x</tspan><tspan x="-2.33">1</tspan><tspan x="3.95">0</tspan><tspan x="9.77" dy="-4.6" font-size="6.8">8</tspan><tspan x="13.72" dy="4.6">)</tspan></text>
<line x1="330.6" y1="213.7" x2="330.6" y2="298.8" stroke="#141414" stroke-width="1.1"/>
<line x1="327" y1="298.3" x2="411.5" y2="298.3" stroke="#141414" stroke-width="1.2"/>
<line x1="327.4" y1="298.3" x2="330.6" y2="298.3" stroke="#141414" stroke-width="1"/>
<text transform="translate(324.2 300.33) scale(0.84 1)" font-size="9.8" text-anchor="end" font-weight="normal" fill="#1c1c1c" stroke="#1c1c1c" stroke-width="0.2">0</text>
<line x1="329" y1="294.17" x2="330.6" y2="294.17" stroke="#141414" stroke-width="0.9"/>
<line x1="329" y1="290.05" x2="330.6" y2="290.05" stroke="#141414" stroke-width="0.9"/>
<line x1="329" y1="285.92" x2="330.6" y2="285.92" stroke="#141414" stroke-width="0.9"/>
<line x1="329" y1="281.8" x2="330.6" y2="281.8" stroke="#141414" stroke-width="0.9"/>
<line x1="327.4" y1="277.67" x2="330.6" y2="277.67" stroke="#141414" stroke-width="1"/>
<text transform="translate(324.2 279.7) scale(0.84 1)" font-size="9.8" text-anchor="end" font-weight="normal" fill="#1c1c1c" stroke="#1c1c1c" stroke-width="0.2">1</text>
<line x1="329" y1="273.54" x2="330.6" y2="273.54" stroke="#141414" stroke-width="0.9"/>
<line x1="329" y1="269.42" x2="330.6" y2="269.42" stroke="#141414" stroke-width="0.9"/>
<line x1="329" y1="265.29" x2="330.6" y2="265.29" stroke="#141414" stroke-width="0.9"/>
<line x1="329" y1="261.17" x2="330.6" y2="261.17" stroke="#141414" stroke-width="0.9"/>
<line x1="327.4" y1="257.04" x2="330.6" y2="257.04" stroke="#141414" stroke-width="1"/>
<text transform="translate(324.2 259.07) scale(0.84 1)" font-size="9.8" text-anchor="end" font-weight="normal" fill="#1c1c1c" stroke="#1c1c1c" stroke-width="0.2">2</text>
<line x1="329" y1="252.91" x2="330.6" y2="252.91" stroke="#141414" stroke-width="0.9"/>
<line x1="329" y1="248.79" x2="330.6" y2="248.79" stroke="#141414" stroke-width="0.9"/>
<line x1="329" y1="244.66" x2="330.6" y2="244.66" stroke="#141414" stroke-width="0.9"/>
<line x1="329" y1="240.54" x2="330.6" y2="240.54" stroke="#141414" stroke-width="0.9"/>
<line x1="327.4" y1="236.41" x2="330.6" y2="236.41" stroke="#141414" stroke-width="1"/>
<text transform="translate(324.2 238.44) scale(0.84 1)" font-size="9.8" text-anchor="end" font-weight="normal" fill="#1c1c1c" stroke="#1c1c1c" stroke-width="0.2">3</text>
<line x1="329" y1="232.28" x2="330.6" y2="232.28" stroke="#141414" stroke-width="0.9"/>
<line x1="329" y1="228.16" x2="330.6" y2="228.16" stroke="#141414" stroke-width="0.9"/>
<line x1="329" y1="224.03" x2="330.6" y2="224.03" stroke="#141414" stroke-width="0.9"/>
<line x1="329" y1="219.91" x2="330.6" y2="219.91" stroke="#141414" stroke-width="0.9"/>
<line x1="327.4" y1="215.78" x2="330.6" y2="215.78" stroke="#141414" stroke-width="1"/>
<text transform="translate(324.2 217.81) scale(0.84 1)" font-size="9.8" text-anchor="end" font-weight="normal" fill="#1c1c1c" stroke="#1c1c1c" stroke-width="0.2">4</text>
<line x1="338.8" y1="278.9" x2="338.8" y2="276.1" stroke="#0a0a0a" stroke-width="1.1"/>
<line x1="336.5" y1="276.1" x2="341.1" y2="276.1" stroke="#0a0a0a" stroke-width="1.2"/>
<rect x="334.5" y="278.9" width="8.6" height="19.4" fill="#6ba642"/>
<line x1="338.8" y1="298.3" x2="338.8" y2="301.3" stroke="#141414" stroke-width="1"/>
<line x1="351.5" y1="282" x2="351.5" y2="280.1" stroke="#0a0a0a" stroke-width="1.1"/>
<line x1="349.2" y1="280.1" x2="353.8" y2="280.1" stroke="#0a0a0a" stroke-width="1.2"/>
<rect x="347.2" y="282" width="8.6" height="16.3" fill="#5c3d1c"/>
<line x1="351.5" y1="298.3" x2="351.5" y2="301.3" stroke="#141414" stroke-width="1"/>
<line x1="364.5" y1="282.6" x2="364.5" y2="280.9" stroke="#0a0a0a" stroke-width="1.1"/>
<line x1="362.2" y1="280.9" x2="366.8" y2="280.9" stroke="#0a0a0a" stroke-width="1.2"/>
<rect x="360.2" y="282.6" width="8.6" height="15.7" fill="#da8a16"/>
<line x1="364.5" y1="298.3" x2="364.5" y2="301.3" stroke="#141414" stroke-width="1"/>
<line x1="377.2" y1="238.3" x2="377.2" y2="235.9" stroke="#0a0a0a" stroke-width="1.1"/>
<line x1="374.9" y1="235.9" x2="379.5" y2="235.9" stroke="#0a0a0a" stroke-width="1.2"/>
<rect x="372.9" y="238.3" width="8.6" height="60" fill="#2e4b7c"/>
<line x1="377.2" y1="298.3" x2="377.2" y2="301.3" stroke="#141414" stroke-width="1"/>
<line x1="390.1" y1="232.3" x2="390.1" y2="225.2" stroke="#0a0a0a" stroke-width="1.1"/>
<line x1="387.8" y1="225.2" x2="392.4" y2="225.2" stroke="#0a0a0a" stroke-width="1.2"/>
<rect x="385.8" y="232.3" width="8.6" height="66" fill="#a3002b"/>
<line x1="390.1" y1="298.3" x2="390.1" y2="301.3" stroke="#141414" stroke-width="1"/>
<line x1="402.8" y1="229.6" x2="402.8" y2="222.6" stroke="#0a0a0a" stroke-width="1.1"/>
<line x1="400.5" y1="222.6" x2="405.1" y2="222.6" stroke="#0a0a0a" stroke-width="1.2"/>
<rect x="398.5" y="229.6" width="8.6" height="68.7" fill="#4f5566"/>
<line x1="402.8" y1="298.3" x2="402.8" y2="301.3" stroke="#141414" stroke-width="1"/>
<polyline points="364.3,279.5 364.3,204.5 405.5,204.5 405.5,220.2" fill="none" stroke="#141414" stroke-width="1"/>
<polygon points="381.25,199.45 381.69,200.39 382.72,200.52 381.96,201.23 382.16,202.25 381.25,201.75 380.34,202.25 380.54,201.23 379.78,200.52 380.81,200.39" fill="#1a1a1a" stroke="#1a1a1a" stroke-width="0.35" stroke-linejoin="round"/>
<polygon points="384.8,199.45 385.24,200.39 386.27,200.52 385.51,201.23 385.71,202.25 384.8,201.75 383.89,202.25 384.09,201.23 383.33,200.52 384.36,200.39" fill="#1a1a1a" stroke="#1a1a1a" stroke-width="0.35" stroke-linejoin="round"/>
<polygon points="388.35,199.45 388.79,200.39 389.82,200.52 389.06,201.23 389.26,202.25 388.35,201.75 387.44,202.25 387.64,201.23 386.88,200.52 387.91,200.39" fill="#1a1a1a" stroke="#1a1a1a" stroke-width="0.35" stroke-linejoin="round"/>
<polyline points="388,220.6 402.5,220.6" fill="none" stroke="#141414" stroke-width="1"/>
<text transform="translate(394.8 217.58)" font-size="8" text-anchor="middle" font-weight="normal" fill="#1c1c1c" stroke="#1c1c1c" stroke-width="0.2">ns</text>
<text transform="translate(330.1 312.03) scale(0.84 1)" font-size="9.8" text-anchor="end" font-weight="normal" fill="#1c1c1c" stroke="#1c1c1c" stroke-width="0.2" textLength="38.11" lengthAdjust="spacingAndGlyphs">Con IgG</text>
<line x1="337.65" y1="310" x2="339.95" y2="310" stroke="#222" stroke-width="1.05"/>
<line x1="349.3" y1="309.65" x2="353.7" y2="309.65" stroke="#222" stroke-width="1.05"/>
<line x1="351.5" y1="307.45" x2="351.5" y2="311.85" stroke="#222" stroke-width="1.05"/>
<line x1="363.35" y1="310" x2="365.65" y2="310" stroke="#222" stroke-width="1.05"/>
<line x1="376.05" y1="310" x2="378.35" y2="310" stroke="#222" stroke-width="1.05"/>
<line x1="387.9" y1="309.65" x2="392.3" y2="309.65" stroke="#222" stroke-width="1.05"/>
<line x1="390.1" y1="307.45" x2="390.1" y2="311.85" stroke="#222" stroke-width="1.05"/>
<line x1="401.65" y1="310" x2="403.95" y2="310" stroke="#222" stroke-width="1.05"/>
<text transform="translate(330.1 322.33) scale(0.84 1)" font-size="9.8" text-anchor="end" font-weight="normal" fill="#1c1c1c" stroke="#1c1c1c" stroke-width="0.2" textLength="17.63" lengthAdjust="spacingAndGlyphs">&#945;TF</text>
<line x1="337.65" y1="320.3" x2="339.95" y2="320.3" stroke="#222" stroke-width="1.05"/>
<line x1="350.35" y1="320.3" x2="352.65" y2="320.3" stroke="#222" stroke-width="1.05"/>
<line x1="362.3" y1="319.95" x2="366.7" y2="319.95" stroke="#222" stroke-width="1.05"/>
<line x1="364.5" y1="317.75" x2="364.5" y2="322.15" stroke="#222" stroke-width="1.05"/>
<line x1="376.05" y1="320.3" x2="378.35" y2="320.3" stroke="#222" stroke-width="1.05"/>
<line x1="388.95" y1="320.3" x2="391.25" y2="320.3" stroke="#222" stroke-width="1.05"/>
<line x1="400.6" y1="319.95" x2="405" y2="319.95" stroke="#222" stroke-width="1.05"/>
<line x1="402.8" y1="317.75" x2="402.8" y2="322.15" stroke="#222" stroke-width="1.05"/>
<line x1="335" y1="327.9" x2="368.75" y2="327.9" stroke="#3a3a3a" stroke-width="1.2"/>
<text transform="translate(351.88 338.03) scale(0.84 1)" font-size="9.8" text-anchor="middle" font-weight="normal" fill="#1c1c1c" stroke="#1c1c1c" stroke-width="0.2">Con</text>
<line x1="373.25" y1="327.9" x2="407" y2="327.9" stroke="#3a3a3a" stroke-width="1.2"/>
<text transform="translate(390.12 338.03) scale(0.84 1)" font-size="9.8" text-anchor="middle" font-weight="normal" fill="#1c1c1c" stroke="#1c1c1c" stroke-width="0.2">FVIIa</text>
<text transform="translate(300.5 255.9) rotate(-90) scale(0.84 1)" font-size="9.8" text-anchor="middle" font-weight="normal" fill="#1c1c1c" stroke="#1c1c1c" stroke-width="0.2" textLength="80" lengthAdjust="spacingAndGlyphs">Number of EVs/mL</text>
<text transform="translate(313.6 255.9) rotate(-90) scale(0.86 1)" font-size="10" text-anchor="middle" font-weight="normal" fill="#1c1c1c" stroke="#1c1c1c" stroke-width="0.2"><tspan x="-13.84">(</tspan><tspan x="-9.42">x</tspan><tspan x="-2.33">1</tspan><tspan x="3.95">0</tspan><tspan x="9.77" dy="-4.6" font-size="6.8">8</tspan><tspan x="13.72" dy="4.6">)</tspan></text>
<line x1="54.5" y1="384.4" x2="54.5" y2="470.8" stroke="#141414" stroke-width="1.1"/>
<line x1="51" y1="470.3" x2="136" y2="470.3" stroke="#141414" stroke-width="1.2"/>
<line x1="51.3" y1="470.3" x2="54.5" y2="470.3" stroke="#141414" stroke-width="1"/>
<text transform="translate(48.2 472.33) scale(0.84 1)" font-size="9.8" text-anchor="end" font-weight="normal" fill="#1c1c1c" stroke="#1c1c1c" stroke-width="0.2">0</text>
<line x1="52.9" y1="466.96" x2="54.5" y2="466.96" stroke="#141414" stroke-width="0.9"/>
<line x1="52.9" y1="463.63" x2="54.5" y2="463.63" stroke="#141414" stroke-width="0.9"/>
<line x1="52.9" y1="460.29" x2="54.5" y2="460.29" stroke="#141414" stroke-width="0.9"/>
<line x1="52.9" y1="456.96" x2="54.5" y2="456.96" stroke="#141414" stroke-width="0.9"/>
<line x1="51.3" y1="453.62" x2="54.5" y2="453.62" stroke="#141414" stroke-width="1"/>
<text transform="translate(48.2 455.65) scale(0.84 1)" font-size="9.8" text-anchor="end" font-weight="normal" fill="#1c1c1c" stroke="#1c1c1c" stroke-width="0.2">1</text>
<line x1="52.9" y1="450.28" x2="54.5" y2="450.28" stroke="#141414" stroke-width="0.9"/>
<line x1="52.9" y1="446.95" x2="54.5" y2="446.95" stroke="#141414" stroke-width="0.9"/>
<line x1="52.9" y1="443.61" x2="54.5" y2="443.61" stroke="#141414" stroke-width="0.9"/>
<line x1="52.9" y1="440.28" x2="54.5" y2="440.28" stroke="#141414" stroke-width="0.9"/>
<line x1="51.3" y1="436.94" x2="54.5" y2="436.94" stroke="#141414" stroke-width="1"/>
<text transform="translate(48.2 438.97) scale(0.84 1)" font-size="9.8" text-anchor="end" font-weight="normal" fill="#1c1c1c" stroke="#1c1c1c" stroke-width="0.2">2</text>
<line x1="52.9" y1="433.6" x2="54.5" y2="433.6" stroke="#141414" stroke-width="0.9"/>
<line x1="52.9" y1="430.27" x2="54.5" y2="430.27" stroke="#141414" stroke-width="0.9"/>
<line x1="52.9" y1="426.93" x2="54.5" y2="426.93" stroke="#141414" stroke-width="0.9"/>
<line x1="52.9" y1="423.6" x2="54.5" y2="423.6" stroke="#141414" stroke-width="0.9"/>
<line x1="51.3" y1="420.26" x2="54.5" y2="420.26" stroke="#141414" stroke-width="1"/>
<text transform="translate(48.2 422.29) scale(0.84 1)" font-size="9.8" text-anchor="end" font-weight="normal" fill="#1c1c1c" stroke="#1c1c1c" stroke-width="0.2">3</text>
<line x1="52.9" y1="416.92" x2="54.5" y2="416.92" stroke="#141414" stroke-width="0.9"/>
<line x1="52.9" y1="413.59" x2="54.5" y2="413.59" stroke="#141414" stroke-width="0.9"/>
<line x1="52.9" y1="410.25" x2="54.5" y2="410.25" stroke="#141414" stroke-width="0.9"/>
<line x1="52.9" y1="406.92" x2="54.5" y2="406.92" stroke="#141414" stroke-width="0.9"/>
<line x1="51.3" y1="403.58" x2="54.5" y2="403.58" stroke="#141414" stroke-width="1"/>
<text transform="translate(48.2 405.61) scale(0.84 1)" font-size="9.8" text-anchor="end" font-weight="normal" fill="#1c1c1c" stroke="#1c1c1c" stroke-width="0.2">4</text>
<line x1="52.9" y1="400.24" x2="54.5" y2="400.24" stroke="#141414" stroke-width="0.9"/>
<line x1="52.9" y1="396.91" x2="54.5" y2="396.91" stroke="#141414" stroke-width="0.9"/>
<line x1="52.9" y1="393.57" x2="54.5" y2="393.57" stroke="#141414" stroke-width="0.9"/>
<line x1="52.9" y1="390.24" x2="54.5" y2="390.24" stroke="#141414" stroke-width="0.9"/>
<line x1="51.3" y1="386.9" x2="54.5" y2="386.9" stroke="#141414" stroke-width="1"/>
<text transform="translate(48.2 388.93) scale(0.84 1)" font-size="9.8" text-anchor="end" font-weight="normal" fill="#1c1c1c" stroke="#1c1c1c" stroke-width="0.2">5</text>
<line x1="62.9" y1="458.8" x2="62.9" y2="455" stroke="#0a0a0a" stroke-width="1.1"/>
<line x1="60.6" y1="455" x2="65.2" y2="455" stroke="#0a0a0a" stroke-width="1.2"/>
<rect x="58.7" y="458.8" width="8.4" height="11.5" fill="#6ba642"/>
<line x1="62.9" y1="470.3" x2="62.9" y2="473.3" stroke="#141414" stroke-width="1"/>
<line x1="75.5" y1="457.5" x2="75.5" y2="456.5" stroke="#0a0a0a" stroke-width="1.1"/>
<line x1="73.2" y1="456.5" x2="77.8" y2="456.5" stroke="#0a0a0a" stroke-width="1.2"/>
<rect x="71.3" y="457.5" width="8.4" height="12.8" fill="#5c3d1c"/>
<line x1="75.5" y1="470.3" x2="75.5" y2="473.3" stroke="#141414" stroke-width="1"/>
<line x1="88.4" y1="457.1" x2="88.4" y2="456.2" stroke="#0a0a0a" stroke-width="1.1"/>
<line x1="86.1" y1="456.2" x2="90.7" y2="456.2" stroke="#0a0a0a" stroke-width="1.2"/>
<rect x="84.2" y="457.1" width="8.4" height="13.2" fill="#da8a16"/>
<line x1="88.4" y1="470.3" x2="88.4" y2="473.3" stroke="#141414" stroke-width="1"/>
<line x1="101.3" y1="415.8" x2="101.3" y2="408.8" stroke="#0a0a0a" stroke-width="1.1"/>
<line x1="99" y1="408.8" x2="103.6" y2="408.8" stroke="#0a0a0a" stroke-width="1.2"/>
<rect x="97.1" y="415.8" width="8.4" height="54.5" fill="#2e4b7c"/>
<line x1="101.3" y1="470.3" x2="101.3" y2="473.3" stroke="#141414" stroke-width="1"/>
<line x1="113.8" y1="410" x2="113.8" y2="403.1" stroke="#0a0a0a" stroke-width="1.1"/>
<line x1="111.5" y1="403.1" x2="116.1" y2="403.1" stroke="#0a0a0a" stroke-width="1.2"/>
<rect x="109.6" y="410" width="8.4" height="60.3" fill="#a3002b"/>
<line x1="113.8" y1="470.3" x2="113.8" y2="473.3" stroke="#141414" stroke-width="1"/>
<line x1="126.9" y1="414.8" x2="126.9" y2="409" stroke="#0a0a0a" stroke-width="1.1"/>
<line x1="124.6" y1="409" x2="129.2" y2="409" stroke="#0a0a0a" stroke-width="1.2"/>
<rect x="122.7" y="414.8" width="8.4" height="55.5" fill="#4f5566"/>
<line x1="126.9" y1="470.3" x2="126.9" y2="473.3" stroke="#141414" stroke-width="1"/>
<polyline points="88.5,451.3 88.5,386.9 129.4,386.9 129.4,403.7" fill="none" stroke="#141414" stroke-width="1"/>
<polygon points="105.25,381.55 105.69,382.49 106.72,382.62 105.96,383.33 106.16,384.35 105.25,383.85 104.34,384.35 104.54,383.33 103.78,382.62 104.81,382.49" fill="#1a1a1a" stroke="#1a1a1a" stroke-width="0.35" stroke-linejoin="round"/>
<polygon points="108.8,381.55 109.24,382.49 110.27,382.62 109.51,383.33 109.71,384.35 108.8,383.85 107.89,384.35 108.09,383.33 107.33,382.62 108.36,382.49" fill="#1a1a1a" stroke="#1a1a1a" stroke-width="0.35" stroke-linejoin="round"/>
<polygon points="112.35,381.55 112.79,382.49 113.82,382.62 113.06,383.33 113.26,384.35 112.35,383.85 111.44,384.35 111.64,383.33 110.88,382.62 111.91,382.49" fill="#1a1a1a" stroke="#1a1a1a" stroke-width="0.35" stroke-linejoin="round"/>
<polyline points="112.1,399.4 126,399.4" fill="none" stroke="#141414" stroke-width="1"/>
<text transform="translate(118.8 396.08)" font-size="8" text-anchor="middle" font-weight="normal" fill="#1c1c1c" stroke="#1c1c1c" stroke-width="0.2">ns</text>
<text transform="translate(54.4 484.03) scale(0.84 1)" font-size="9.8" text-anchor="end" font-weight="normal" fill="#1c1c1c" stroke="#1c1c1c" stroke-width="0.2" textLength="38.82" lengthAdjust="spacingAndGlyphs">Scr RNA</text>
<line x1="61.75" y1="482" x2="64.05" y2="482" stroke="#222" stroke-width="1.05"/>
<line x1="73.3" y1="481.65" x2="77.7" y2="481.65" stroke="#222" stroke-width="1.05"/>
<line x1="75.5" y1="479.45" x2="75.5" y2="483.85" stroke="#222" stroke-width="1.05"/>
<line x1="87.25" y1="482" x2="89.55" y2="482" stroke="#222" stroke-width="1.05"/>
<line x1="100.15" y1="482" x2="102.45" y2="482" stroke="#222" stroke-width="1.05"/>
<line x1="111.6" y1="481.65" x2="116" y2="481.65" stroke="#222" stroke-width="1.05"/>
<line x1="113.8" y1="479.45" x2="113.8" y2="483.85" stroke="#222" stroke-width="1.05"/>
<line x1="125.75" y1="482" x2="128.05" y2="482" stroke="#222" stroke-width="1.05"/>
<text transform="translate(54.4 494.33) scale(0.84 1)" font-size="9.8" text-anchor="end" font-weight="normal" fill="#1c1c1c" stroke="#1c1c1c" stroke-width="0.2" textLength="55.5" lengthAdjust="spacingAndGlyphs">PAR2 siRNA</text>
<line x1="61.75" y1="492.3" x2="64.05" y2="492.3" stroke="#222" stroke-width="1.05"/>
<line x1="74.35" y1="492.3" x2="76.65" y2="492.3" stroke="#222" stroke-width="1.05"/>
<line x1="86.2" y1="491.95" x2="90.6" y2="491.95" stroke="#222" stroke-width="1.05"/>
<line x1="88.4" y1="489.75" x2="88.4" y2="494.15" stroke="#222" stroke-width="1.05"/>
<line x1="100.15" y1="492.3" x2="102.45" y2="492.3" stroke="#222" stroke-width="1.05"/>
<line x1="112.65" y1="492.3" x2="114.95" y2="492.3" stroke="#222" stroke-width="1.05"/>
<line x1="124.7" y1="491.95" x2="129.1" y2="491.95" stroke="#222" stroke-width="1.05"/>
<line x1="126.9" y1="489.75" x2="126.9" y2="494.15" stroke="#222" stroke-width="1.05"/>
<line x1="58.8" y1="499.9" x2="92.5" y2="499.9" stroke="#3a3a3a" stroke-width="1.2"/>
<text transform="translate(75.65 510.03) scale(0.84 1)" font-size="9.8" text-anchor="middle" font-weight="normal" fill="#1c1c1c" stroke="#1c1c1c" stroke-width="0.2">Con</text>
<line x1="97" y1="499.9" x2="131.5" y2="499.9" stroke="#3a3a3a" stroke-width="1.2"/>
<text transform="translate(114.25 510.03) scale(0.84 1)" font-size="9.8" text-anchor="middle" font-weight="normal" fill="#1c1c1c" stroke="#1c1c1c" stroke-width="0.2">FVIIa</text>
<text transform="translate(25 427.6) rotate(-90) scale(0.84 1)" font-size="9.8" text-anchor="middle" font-weight="normal" fill="#1c1c1c" stroke="#1c1c1c" stroke-width="0.2" textLength="80" lengthAdjust="spacingAndGlyphs">Number of EVs/mL</text>
<text transform="translate(37.5 427.6) rotate(-90) scale(0.86 1)" font-size="10" text-anchor="middle" font-weight="normal" fill="#1c1c1c" stroke="#1c1c1c" stroke-width="0.2"><tspan x="-13.84">(</tspan><tspan x="-9.42">x</tspan><tspan x="-2.33">1</tspan><tspan x="3.95">0</tspan><tspan x="9.77" dy="-4.6" font-size="6.8">8</tspan><tspan x="13.72" dy="4.6">)</tspan></text>
<line x1="198.5" y1="384.2" x2="198.5" y2="470.85" stroke="#141414" stroke-width="1.1"/>
<line x1="195.3" y1="470.35" x2="301" y2="470.35" stroke="#141414" stroke-width="1.2"/>
<line x1="195.3" y1="470.35" x2="198.5" y2="470.35" stroke="#141414" stroke-width="1"/>
<text transform="translate(191.4 472.38) scale(0.84 1)" font-size="9.8" text-anchor="end" font-weight="normal" fill="#1c1c1c" stroke="#1c1c1c" stroke-width="0.2">0.0</text>
<line x1="196.9" y1="464.8" x2="198.5" y2="464.8" stroke="#141414" stroke-width="0.9"/>
<line x1="196.9" y1="459.26" x2="198.5" y2="459.26" stroke="#141414" stroke-width="0.9"/>
<line x1="196.9" y1="453.71" x2="198.5" y2="453.71" stroke="#141414" stroke-width="0.9"/>
<line x1="196.9" y1="448.16" x2="198.5" y2="448.16" stroke="#141414" stroke-width="0.9"/>
<line x1="195.3" y1="442.62" x2="198.5" y2="442.62" stroke="#141414" stroke-width="1"/>
<text transform="translate(191.4 444.64) scale(0.84 1)" font-size="9.8" text-anchor="end" font-weight="normal" fill="#1c1c1c" stroke="#1c1c1c" stroke-width="0.2">0.5</text>
<line x1="196.9" y1="437.07" x2="198.5" y2="437.07" stroke="#141414" stroke-width="0.9"/>
<line x1="196.9" y1="431.52" x2="198.5" y2="431.52" stroke="#141414" stroke-width="0.9"/>
<line x1="196.9" y1="425.97" x2="198.5" y2="425.97" stroke="#141414" stroke-width="0.9"/>
<line x1="196.9" y1="420.43" x2="198.5" y2="420.43" stroke="#141414" stroke-width="0.9"/>
<line x1="195.3" y1="414.88" x2="198.5" y2="414.88" stroke="#141414" stroke-width="1"/>
<text transform="translate(191.4 416.91) scale(0.84 1)" font-size="9.8" text-anchor="end" font-weight="normal" fill="#1c1c1c" stroke="#1c1c1c" stroke-width="0.2">1.0</text>
<line x1="196.9" y1="409.33" x2="198.5" y2="409.33" stroke="#141414" stroke-width="0.9"/>
<line x1="196.9" y1="403.79" x2="198.5" y2="403.79" stroke="#141414" stroke-width="0.9"/>
<line x1="196.9" y1="398.24" x2="198.5" y2="398.24" stroke="#141414" stroke-width="0.9"/>
<line x1="196.9" y1="392.69" x2="198.5" y2="392.69" stroke="#141414" stroke-width="0.9"/>
<line x1="195.3" y1="387.15" x2="198.5" y2="387.15" stroke="#141414" stroke-width="1"/>
<text transform="translate(191.4 389.17) scale(0.84 1)" font-size="9.8" text-anchor="end" font-weight="normal" fill="#1c1c1c" stroke="#1c1c1c" stroke-width="0.2">1.5</text>
<line x1="204.8" y1="453.5" x2="204.8" y2="452.9" stroke="#0a0a0a" stroke-width="1.1"/>
<line x1="202.5" y1="452.9" x2="207.1" y2="452.9" stroke="#0a0a0a" stroke-width="1.2"/>
<rect x="201.5" y="453.5" width="6.6" height="16.85" fill="#6ba642"/>
<line x1="204.8" y1="470.35" x2="204.8" y2="473.35" stroke="#141414" stroke-width="1"/>
<line x1="214.8" y1="407.7" x2="214.8" y2="399.3" stroke="#0a0a0a" stroke-width="1.1"/>
<line x1="212.5" y1="399.3" x2="217.1" y2="399.3" stroke="#0a0a0a" stroke-width="1.2"/>
<rect x="211.5" y="407.7" width="6.6" height="62.65" fill="#2e4b7c"/>
<line x1="214.8" y1="470.35" x2="214.8" y2="473.35" stroke="#141414" stroke-width="1"/>
<line x1="224.7" y1="457.3" x2="224.7" y2="453.5" stroke="#0a0a0a" stroke-width="1.1"/>
<line x1="222.4" y1="453.5" x2="227" y2="453.5" stroke="#0a0a0a" stroke-width="1.2"/>
<rect x="221.4" y="457.3" width="6.6" height="13.05" fill="#da8a16"/>
<line x1="224.7" y1="470.35" x2="224.7" y2="473.35" stroke="#141414" stroke-width="1"/>
<line x1="234.7" y1="454" x2="234.7" y2="448.5" stroke="#0a0a0a" stroke-width="1.1"/>
<line x1="232.4" y1="448.5" x2="237" y2="448.5" stroke="#0a0a0a" stroke-width="1.2"/>
<rect x="231.4" y="454" width="6.6" height="16.35" fill="#3a6650"/>
<line x1="234.7" y1="470.35" x2="234.7" y2="473.35" stroke="#141414" stroke-width="1"/>
<line x1="244.6" y1="455.8" x2="244.6" y2="449.6" stroke="#0a0a0a" stroke-width="1.1"/>
<line x1="242.3" y1="449.6" x2="246.9" y2="449.6" stroke="#0a0a0a" stroke-width="1.2"/>
<rect x="241.3" y="455.8" width="6.6" height="14.55" fill="#512660"/>
<line x1="244.6" y1="470.35" x2="244.6" y2="473.35" stroke="#141414" stroke-width="1"/>
<line x1="254.6" y1="419.7" x2="254.6" y2="404.9" stroke="#0a0a0a" stroke-width="1.1"/>
<line x1="252.3" y1="404.9" x2="256.9" y2="404.9" stroke="#0a0a0a" stroke-width="1.2"/>
<rect x="251.3" y="419.7" width="6.6" height="50.65" fill="#a3002b"/>
<line x1="254.6" y1="470.35" x2="254.6" y2="473.35" stroke="#141414" stroke-width="1"/>
<line x1="264.5" y1="460.2" x2="264.5" y2="455.8" stroke="#0a0a0a" stroke-width="1.1"/>
<line x1="262.2" y1="455.8" x2="266.8" y2="455.8" stroke="#0a0a0a" stroke-width="1.2"/>
<rect x="261.2" y="460.2" width="6.6" height="10.15" fill="#a86a22"/>
<line x1="264.5" y1="470.35" x2="264.5" y2="473.35" stroke="#141414" stroke-width="1"/>
<line x1="274.5" y1="454.2" x2="274.5" y2="451.3" stroke="#0a0a0a" stroke-width="1.1"/>
<line x1="272.2" y1="451.3" x2="276.8" y2="451.3" stroke="#0a0a0a" stroke-width="1.2"/>
<rect x="271.2" y="454.2" width="6.6" height="16.15" fill="#8b84b8"/>
<line x1="274.5" y1="470.35" x2="274.5" y2="473.35" stroke="#141414" stroke-width="1"/>
<line x1="284.5" y1="454.2" x2="284.5" y2="447.3" stroke="#0a0a0a" stroke-width="1.1"/>
<line x1="282.2" y1="447.3" x2="286.8" y2="447.3" stroke="#0a0a0a" stroke-width="1.2"/>
<rect x="281.2" y="454.2" width="6.6" height="16.15" fill="#4f5566"/>
<line x1="284.5" y1="470.35" x2="284.5" y2="473.35" stroke="#141414" stroke-width="1"/>
<line x1="294.4" y1="422.1" x2="294.4" y2="410" stroke="#0a0a0a" stroke-width="1.1"/>
<line x1="292.1" y1="410" x2="296.7" y2="410" stroke="#0a0a0a" stroke-width="1.2"/>
<rect x="291.1" y="422.1" width="6.6" height="48.25" fill="#6aa8dd"/>
<line x1="294.4" y1="470.35" x2="294.4" y2="473.35" stroke="#141414" stroke-width="1"/>
<polyline points="205,396.5 214.8,396.5" fill="none" stroke="#141414" stroke-width="1"/>
<polygon points="206.35,390.75 206.79,391.69 207.82,391.82 207.06,392.53 207.26,393.55 206.35,393.05 205.44,393.55 205.64,392.53 204.88,391.82 205.91,391.69" fill="#1a1a1a" stroke="#1a1a1a" stroke-width="0.35" stroke-linejoin="round"/>
<polygon points="209.9,390.75 210.34,391.69 211.37,391.82 210.61,392.53 210.81,393.55 209.9,393.05 208.99,393.55 209.19,392.53 208.43,391.82 209.46,391.69" fill="#1a1a1a" stroke="#1a1a1a" stroke-width="0.35" stroke-linejoin="round"/>
<polygon points="213.45,390.75 213.89,391.69 214.92,391.82 214.16,392.53 214.36,393.55 213.45,393.05 212.54,393.55 212.74,392.53 211.98,391.82 213.01,391.69" fill="#1a1a1a" stroke="#1a1a1a" stroke-width="0.35" stroke-linejoin="round"/>
<polyline points="225.4,445.4 234.9,445.4" fill="none" stroke="#141414" stroke-width="1"/>
<text transform="translate(229.8 442.38)" font-size="8" text-anchor="middle" font-weight="normal" fill="#1c1c1c" stroke="#1c1c1c" stroke-width="0.2">ns</text>
<polyline points="244.9,402.2 254.6,402.2" fill="none" stroke="#141414" stroke-width="1"/>
<polygon points="249.7,396.65 250.14,397.59 251.17,397.72 250.41,398.43 250.61,399.45 249.7,398.95 248.79,399.45 248.99,398.43 248.23,397.72 249.26,397.59" fill="#1a1a1a" stroke="#1a1a1a" stroke-width="0.35" stroke-linejoin="round"/>
<polyline points="264.8,448.7 274.5,448.7" fill="none" stroke="#141414" stroke-width="1"/>
<text transform="translate(269.6 445.68)" font-size="8" text-anchor="middle" font-weight="normal" fill="#1c1c1c" stroke="#1c1c1c" stroke-width="0.2">ns</text>
<polyline points="284.7,407.1 294.4,407.1" fill="none" stroke="#141414" stroke-width="1"/>
<polygon points="289.6,401.55 290.04,402.49 291.07,402.62 290.31,403.33 290.51,404.35 289.6,403.85 288.69,404.35 288.89,403.33 288.13,402.62 289.16,402.49" fill="#1a1a1a" stroke="#1a1a1a" stroke-width="0.35" stroke-linejoin="round"/>
<text transform="translate(198.1 483.88) scale(0.84 1)" font-size="9.8" text-anchor="end" font-weight="normal" fill="#1c1c1c" stroke="#1c1c1c" stroke-width="0.2" textLength="22.13" lengthAdjust="spacingAndGlyphs">FVIIa</text>
<line x1="203.65" y1="481.85" x2="205.95" y2="481.85" stroke="#222" stroke-width="1.05"/>
<line x1="212.6" y1="481.5" x2="217" y2="481.5" stroke="#222" stroke-width="1.05"/>
<line x1="214.8" y1="479.3" x2="214.8" y2="483.7" stroke="#222" stroke-width="1.05"/>
<line x1="223.55" y1="481.85" x2="225.85" y2="481.85" stroke="#222" stroke-width="1.05"/>
<line x1="232.5" y1="481.5" x2="236.9" y2="481.5" stroke="#222" stroke-width="1.05"/>
<line x1="234.7" y1="479.3" x2="234.7" y2="483.7" stroke="#222" stroke-width="1.05"/>
<line x1="243.45" y1="481.85" x2="245.75" y2="481.85" stroke="#222" stroke-width="1.05"/>
<line x1="252.4" y1="481.5" x2="256.8" y2="481.5" stroke="#222" stroke-width="1.05"/>
<line x1="254.6" y1="479.3" x2="254.6" y2="483.7" stroke="#222" stroke-width="1.05"/>
<line x1="263.35" y1="481.85" x2="265.65" y2="481.85" stroke="#222" stroke-width="1.05"/>
<line x1="272.3" y1="481.5" x2="276.7" y2="481.5" stroke="#222" stroke-width="1.05"/>
<line x1="274.5" y1="479.3" x2="274.5" y2="483.7" stroke="#222" stroke-width="1.05"/>
<line x1="283.35" y1="481.85" x2="285.65" y2="481.85" stroke="#222" stroke-width="1.05"/>
<line x1="292.2" y1="481.5" x2="296.6" y2="481.5" stroke="#222" stroke-width="1.05"/>
<line x1="294.4" y1="479.3" x2="294.4" y2="483.7" stroke="#222" stroke-width="1.05"/>
<line x1="201.5" y1="489.9" x2="218" y2="489.9" stroke="#3a3a3a" stroke-width="1.2"/>
<line x1="221.2" y1="489.9" x2="237.9" y2="489.9" stroke="#3a3a3a" stroke-width="1.2"/>
<line x1="241.4" y1="489.9" x2="257.6" y2="489.9" stroke="#3a3a3a" stroke-width="1.2"/>
<line x1="261.1" y1="489.9" x2="277.8" y2="489.9" stroke="#3a3a3a" stroke-width="1.2"/>
<line x1="281" y1="489.9" x2="297.2" y2="489.9" stroke="#3a3a3a" stroke-width="1.2"/>
<text transform="translate(161.2 427.6) rotate(-90) scale(0.84 1)" font-size="9.8" text-anchor="middle" font-weight="normal" fill="#1c1c1c" stroke="#1c1c1c" stroke-width="0.2" textLength="80" lengthAdjust="spacingAndGlyphs">Number of EVs/mL</text>
<text transform="translate(174 427.6) rotate(-90) scale(0.86 1)" font-size="10" text-anchor="middle" font-weight="normal" fill="#1c1c1c" stroke="#1c1c1c" stroke-width="0.2"><tspan x="-13.84">(</tspan><tspan x="-9.42">x</tspan><tspan x="-2.33">1</tspan><tspan x="3.95">0</tspan><tspan x="9.77" dy="-4.6" font-size="6.8">8</tspan><tspan x="13.72" dy="4.6">)</tspan></text>
<text transform="translate(212.2 494.5) rotate(-90) scale(0.84 1)" font-size="9.8" text-anchor="end" font-weight="normal" fill="#1c1c1c" stroke="#1c1c1c" stroke-width="0.2">WT</text>
<text transform="translate(232.1 494.5) rotate(-90) scale(0.84 1)" font-size="9.8" text-anchor="end" font-weight="normal" fill="#1c1c1c" stroke="#1c1c1c" stroke-width="0.2">EPCR KO</text>
<text transform="translate(252.3 494.5) rotate(-90) scale(0.84 1)" font-size="9.8" text-anchor="end" font-weight="normal" fill="#1c1c1c" stroke="#1c1c1c" stroke-width="0.2">EPCR OX</text>
<text transform="translate(272 494.5) rotate(-90) scale(0.84 1)" font-size="9.8" text-anchor="end" font-weight="normal" fill="#1c1c1c" stroke="#1c1c1c" stroke-width="0.2">PAR1 R41Q</text>
<text transform="translate(291.7 494.5) rotate(-90) scale(0.84 1)" font-size="9.8" text-anchor="end" font-weight="normal" fill="#1c1c1c" stroke="#1c1c1c" stroke-width="0.2">PAR1 R46Q</text>
<text transform="translate(21 68.4) rotate(-90) scale(0.78 1)" font-size="10.6" text-anchor="start" font-weight="normal" fill="#1c1c1c" stroke="#1c1c1c" stroke-width="0.2">Con</text>
<text transform="translate(35.8 68.4) rotate(-90) scale(0.78 1)" font-size="10.6" text-anchor="start" font-weight="normal" fill="#1c1c1c" stroke="#1c1c1c" stroke-width="0.2">Scr RNA</text>
<text transform="translate(53 68.4) rotate(-90) scale(0.78 1)" font-size="10.6" text-anchor="start" font-weight="normal" fill="#1c1c1c" stroke="#1c1c1c" stroke-width="0.2">EPCR siRNA</text>
<rect x="7.6" y="72.6" width="53.9" height="29" fill="#cdcdcd" stroke="#777" stroke-width="1.6"/>
<line x1="6.8" y1="72.6" x2="62.3" y2="72.6" stroke="#262626" stroke-width="1.3"/>
<line x1="6.8" y1="101.6" x2="62.3" y2="101.6" stroke="#262626" stroke-width="1.3"/>
<rect x="14.7" y="78.5" width="11.2" height="15.4" rx="4.08" fill="#000" opacity="0.45" filter="url(#bl2)"/>
<rect x="15.2" y="84" width="10.2" height="6.4" rx="3.2" fill="#000" opacity="1" filter="url(#bl1)"/>
<rect x="28.4" y="78.5" width="11.7" height="15.4" rx="4.28" fill="#000" opacity="0.38" filter="url(#bl2)"/>
<rect x="28.9" y="84" width="10.7" height="6.4" rx="3.2" fill="#000" opacity="0.85" filter="url(#bl1)"/>
<rect x="45.5" y="78.5" width="11" height="15.4" rx="4" fill="#000" opacity="0.02" filter="url(#bl2)"/>
<rect x="46" y="84" width="10" height="6.4" rx="3.2" fill="#000" opacity="0.04" filter="url(#bl1)"/>
<rect x="7.6" y="113.2" width="53.9" height="29.1" fill="#cbcbcb" stroke="#777" stroke-width="1.6"/>
<line x1="6.8" y1="113.2" x2="62.3" y2="113.2" stroke="#262626" stroke-width="1.3"/>
<line x1="6.8" y1="142.3" x2="62.3" y2="142.3" stroke="#262626" stroke-width="1.3"/>
<rect x="12.3" y="124.5" width="14.5" height="10.2" rx="4.08" fill="#000" opacity="0.25" filter="url(#bl2)"/>
<rect x="12.8" y="127.5" width="13.5" height="5.2" rx="2.6" fill="#000" opacity="1" filter="url(#bl1)"/>
<rect x="28.9" y="124.5" width="11.8" height="10.2" rx="4.08" fill="#000" opacity="0.25" filter="url(#bl2)"/>
<rect x="29.4" y="127.5" width="10.8" height="5.2" rx="2.6" fill="#000" opacity="1" filter="url(#bl1)"/>
<rect x="43.3" y="124.5" width="12.2" height="10.2" rx="4.08" fill="#000" opacity="0.25" filter="url(#bl2)"/>
<rect x="43.8" y="127.5" width="11.2" height="5.2" rx="2.6" fill="#000" opacity="1" filter="url(#bl1)"/>
<text transform="translate(18.4 110.2)" font-size="8.6" text-anchor="middle" font-weight="normal" fill="#1c1c1c" stroke="#1c1c1c" stroke-width="0.2">1</text>
<text transform="translate(34 110.2)" font-size="8.6" text-anchor="middle" font-weight="normal" fill="#1c1c1c" stroke="#1c1c1c" stroke-width="0.2">0.86</text>
<text transform="translate(52.1 110.2)" font-size="8.6" text-anchor="middle" font-weight="normal" fill="#1c1c1c" stroke="#1c1c1c" stroke-width="0.2">0.03</text>
<text transform="translate(64.4 88.4) scale(0.92 1)" font-size="8.6" text-anchor="start" font-weight="normal" fill="#1c1c1c" stroke="#1c1c1c" stroke-width="0.2">EPCR</text>
<text transform="translate(64.4 131.5)" font-size="8.6" text-anchor="start" font-weight="normal" fill="#1c1c1c" stroke="#1c1c1c" stroke-width="0.2" textLength="26.5" lengthAdjust="spacingAndGlyphs">&#946;-Actin</text>
<text transform="translate(425.5 77.2) rotate(-90) scale(0.78 1)" font-size="10.6" text-anchor="start" font-weight="normal" fill="#1c1c1c" stroke="#1c1c1c" stroke-width="0.2">Con</text>
<text transform="translate(441 77.2) rotate(-90) scale(0.78 1)" font-size="10.6" text-anchor="start" font-weight="normal" fill="#1c1c1c" stroke="#1c1c1c" stroke-width="0.2">Scr RNA</text>
<text transform="translate(459.8 77.2) rotate(-90) scale(0.78 1)" font-size="10.6" text-anchor="start" font-weight="normal" fill="#1c1c1c" stroke="#1c1c1c" stroke-width="0.2">PAR1 siRNA</text>
<rect x="410.4" y="81.4" width="59.2" height="24.6" fill="#eeeeee" stroke="#555" stroke-width="1.6"/>
<line x1="409.6" y1="81.4" x2="470.4" y2="81.4" stroke="#262626" stroke-width="1.3"/>
<line x1="409.6" y1="106" x2="470.4" y2="106" stroke="#262626" stroke-width="1.3"/>
<rect x="416.1" y="88.8" width="12.7" height="10.9" rx="4.36" fill="#000" opacity="0.3" filter="url(#bl2)"/>
<rect x="416.6" y="91.8" width="11.7" height="5.4" rx="2.7" fill="#000" opacity="1" filter="url(#bl1)"/>
<rect x="432.1" y="88.8" width="12.8" height="10.9" rx="4.36" fill="#000" opacity="0.3" filter="url(#bl2)"/>
<rect x="432.6" y="91.8" width="11.8" height="5.4" rx="2.7" fill="#000" opacity="1" filter="url(#bl1)"/>
<rect x="450.3" y="88.8" width="11.7" height="10.9" rx="4.28" fill="#000" opacity="0.07" filter="url(#bl2)"/>
<rect x="450.8" y="91.8" width="10.7" height="5.4" rx="2.7" fill="#000" opacity="0.22" filter="url(#bl1)"/>
<rect x="410.4" y="118" width="59.2" height="24.2" fill="#f1f1f1" stroke="#555" stroke-width="1.6"/>
<line x1="409.6" y1="118" x2="470.4" y2="118" stroke="#262626" stroke-width="1.3"/>
<line x1="409.6" y1="142.2" x2="470.4" y2="142.2" stroke="#262626" stroke-width="1.3"/>
<rect x="415.5" y="125.1" width="13.6" height="11.1" rx="4.44" fill="#000" opacity="0.3" filter="url(#bl2)"/>
<rect x="416" y="130.1" width="12.6" height="4.6" rx="2.3" fill="#000" opacity="1" filter="url(#bl1)"/>
<rect x="431.6" y="125.1" width="13.6" height="11.1" rx="4.44" fill="#000" opacity="0.3" filter="url(#bl2)"/>
<rect x="432.1" y="130.1" width="12.6" height="4.6" rx="2.3" fill="#000" opacity="1" filter="url(#bl1)"/>
<rect x="448.7" y="125.1" width="14.8" height="11.1" rx="4.44" fill="#000" opacity="0.3" filter="url(#bl2)"/>
<rect x="449.2" y="130.1" width="13.8" height="4.6" rx="2.3" fill="#000" opacity="1" filter="url(#bl1)"/>
<text transform="translate(420.5 115.1)" font-size="8.6" text-anchor="middle" font-weight="normal" fill="#1c1c1c" stroke="#1c1c1c" stroke-width="0.2">1</text>
<text transform="translate(438 115.1)" font-size="8.6" text-anchor="middle" font-weight="normal" fill="#1c1c1c" stroke="#1c1c1c" stroke-width="0.2">1.07</text>
<text transform="translate(457.3 115.1)" font-size="8.6" text-anchor="middle" font-weight="normal" fill="#1c1c1c" stroke="#1c1c1c" stroke-width="0.2">0.22</text>
<text transform="translate(473.6 98.4) scale(0.92 1)" font-size="8.6" text-anchor="start" font-weight="normal" fill="#1c1c1c" stroke="#1c1c1c" stroke-width="0.2">PAR1</text>
<text transform="translate(473.6 134.3)" font-size="8.6" text-anchor="start" font-weight="normal" fill="#1c1c1c" stroke="#1c1c1c" stroke-width="0.2" textLength="26.5" lengthAdjust="spacingAndGlyphs">&#946;-Actin</text>
<text transform="translate(441.6 245.2) rotate(-90) scale(0.78 1)" font-size="10.6" text-anchor="start" font-weight="normal" fill="#1c1c1c" stroke="#1c1c1c" stroke-width="0.2">Con</text>
<text transform="translate(456.8 245.2) rotate(-90) scale(0.78 1)" font-size="10.6" text-anchor="start" font-weight="normal" fill="#1c1c1c" stroke="#1c1c1c" stroke-width="0.2">Scr RNA</text>
<text transform="translate(475.6 245.2) rotate(-90) scale(0.78 1)" font-size="10.6" text-anchor="start" font-weight="normal" fill="#1c1c1c" stroke="#1c1c1c" stroke-width="0.2">PAR2 siRNA</text>
<rect x="428.5" y="249.2" width="52.5" height="26" fill="#f3f3f3" stroke="#444" stroke-width="1.6"/>
<line x1="427.7" y1="249.2" x2="481.8" y2="249.2" stroke="#262626" stroke-width="1.3"/>
<line x1="427.7" y1="275.2" x2="481.8" y2="275.2" stroke="#262626" stroke-width="1.3"/>
<rect x="430.7" y="260.7" width="15.6" height="9.1" rx="3.64" fill="#000" opacity="0.2" filter="url(#bl2)"/>
<rect x="431.2" y="262.2" width="14.6" height="3.6" rx="1.8" fill="#000" opacity="1" filter="url(#bl1)"/>
<rect x="447.8" y="260.7" width="14.2" height="9.1" rx="3.64" fill="#000" opacity="0.19" filter="url(#bl2)"/>
<rect x="448.3" y="262.2" width="13.2" height="3.6" rx="1.8" fill="#000" opacity="0.95" filter="url(#bl1)"/>
<rect x="465.3" y="260.7" width="12.8" height="9.1" rx="3.64" fill="#000" opacity="0.03" filter="url(#bl2)"/>
<rect x="465.8" y="262.2" width="11.8" height="3.6" rx="1.8" fill="#000" opacity="0.15" filter="url(#bl1)"/>
<rect x="428.5" y="286.5" width="52.5" height="26.6" fill="#f3f3f3" stroke="#444" stroke-width="1.6"/>
<line x1="427.7" y1="286.5" x2="481.8" y2="286.5" stroke="#262626" stroke-width="1.3"/>
<line x1="427.7" y1="313.1" x2="481.8" y2="313.1" stroke="#262626" stroke-width="1.3"/>
<rect x="430.9" y="294.7" width="13.8" height="8.4" rx="3.36" fill="#000" opacity="0.2" filter="url(#bl2)"/>
<rect x="431.4" y="297.2" width="12.8" height="3.4" rx="1.7" fill="#000" opacity="1" filter="url(#bl1)"/>
<rect x="447.3" y="294.7" width="14.1" height="8.4" rx="3.36" fill="#000" opacity="0.2" filter="url(#bl2)"/>
<rect x="447.8" y="297.2" width="13.1" height="3.4" rx="1.7" fill="#000" opacity="1" filter="url(#bl1)"/>
<rect x="463.6" y="294.7" width="14.5" height="8.4" rx="3.36" fill="#000" opacity="0.2" filter="url(#bl2)"/>
<rect x="464.1" y="297.2" width="13.5" height="3.4" rx="1.7" fill="#000" opacity="1" filter="url(#bl1)"/>
<text transform="translate(436.9 284.1)" font-size="8.6" text-anchor="middle" font-weight="normal" fill="#1c1c1c" stroke="#1c1c1c" stroke-width="0.2">1</text>
<text transform="translate(454.4 284.1)" font-size="8.6" text-anchor="middle" font-weight="normal" fill="#1c1c1c" stroke="#1c1c1c" stroke-width="0.2">0.85</text>
<text transform="translate(473.2 284.1)" font-size="8.6" text-anchor="middle" font-weight="normal" fill="#1c1c1c" stroke="#1c1c1c" stroke-width="0.2">0.11</text>
<text transform="translate(484.4 266.5) scale(0.92 1)" font-size="8.6" text-anchor="start" font-weight="normal" fill="#1c1c1c" stroke="#1c1c1c" stroke-width="0.2">PAR2</text>
<text transform="translate(484.4 302.5)" font-size="8.6" text-anchor="start" font-weight="normal" fill="#1c1c1c" stroke="#1c1c1c" stroke-width="0.2" textLength="26.5" lengthAdjust="spacingAndGlyphs">&#946;-Actin</text>
<rect x="0.5" y="0.5" width="519" height="545" fill="none" stroke="#000" stroke-width="1"/>
</svg>
</body></html>
